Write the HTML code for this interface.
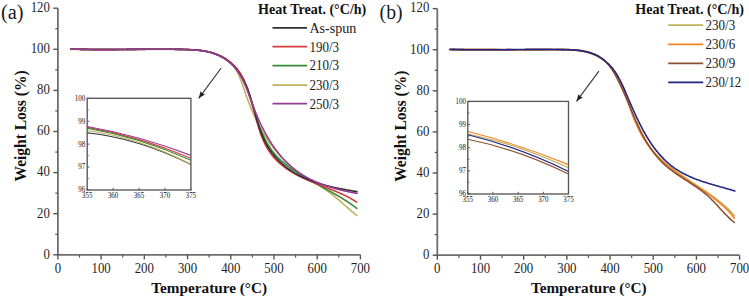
<!DOCTYPE html><html><head><meta charset="utf-8"><style>html,body{margin:0;padding:0;background:#fff;width:749px;height:300px;overflow:hidden}svg{display:block}text{font-family:"Liberation Serif", serif}</style></head><body><svg width="749" height="300" viewBox="0 0 749 300" font-family='"Liberation Serif", serif'>
<rect width="749" height="300" fill="#fff"/>
<line x1="57.90" y1="8.20" x2="57.90" y2="255.30" stroke="#6e6e6e" stroke-width="1.80"/>
<line x1="57.40" y1="254.80" x2="360.40" y2="254.80" stroke="#6e6e6e" stroke-width="1.80"/>
<line x1="53.30" y1="254.80" x2="57.90" y2="254.80" stroke="#555" stroke-width="1.40"/>
<text x="49.90" y="258.60" font-size="13.60" text-anchor="end" font-weight="normal" fill="#1e1e1e" textLength="6.4" lengthAdjust="spacingAndGlyphs">0</text>
<line x1="55.30" y1="234.25" x2="57.90" y2="234.25" stroke="#555" stroke-width="1.20"/>
<line x1="53.30" y1="213.70" x2="57.90" y2="213.70" stroke="#555" stroke-width="1.40"/>
<text x="49.90" y="217.50" font-size="13.60" text-anchor="end" font-weight="normal" fill="#1e1e1e" textLength="12.8" lengthAdjust="spacingAndGlyphs">20</text>
<line x1="55.30" y1="193.15" x2="57.90" y2="193.15" stroke="#555" stroke-width="1.20"/>
<line x1="53.30" y1="172.60" x2="57.90" y2="172.60" stroke="#555" stroke-width="1.40"/>
<text x="49.90" y="176.40" font-size="13.60" text-anchor="end" font-weight="normal" fill="#1e1e1e" textLength="12.8" lengthAdjust="spacingAndGlyphs">40</text>
<line x1="55.30" y1="152.05" x2="57.90" y2="152.05" stroke="#555" stroke-width="1.20"/>
<line x1="53.30" y1="131.50" x2="57.90" y2="131.50" stroke="#555" stroke-width="1.40"/>
<text x="49.90" y="135.30" font-size="13.60" text-anchor="end" font-weight="normal" fill="#1e1e1e" textLength="12.8" lengthAdjust="spacingAndGlyphs">60</text>
<line x1="55.30" y1="110.95" x2="57.90" y2="110.95" stroke="#555" stroke-width="1.20"/>
<line x1="53.30" y1="90.40" x2="57.90" y2="90.40" stroke="#555" stroke-width="1.40"/>
<text x="49.90" y="94.20" font-size="13.60" text-anchor="end" font-weight="normal" fill="#1e1e1e" textLength="12.8" lengthAdjust="spacingAndGlyphs">80</text>
<line x1="55.30" y1="69.85" x2="57.90" y2="69.85" stroke="#555" stroke-width="1.20"/>
<line x1="53.30" y1="49.30" x2="57.90" y2="49.30" stroke="#555" stroke-width="1.40"/>
<text x="49.90" y="53.10" font-size="13.60" text-anchor="end" font-weight="normal" fill="#1e1e1e" textLength="19.2" lengthAdjust="spacingAndGlyphs">100</text>
<line x1="55.30" y1="28.75" x2="57.90" y2="28.75" stroke="#555" stroke-width="1.20"/>
<line x1="53.30" y1="8.20" x2="57.90" y2="8.20" stroke="#555" stroke-width="1.40"/>
<text x="49.90" y="12.00" font-size="13.60" text-anchor="end" font-weight="normal" fill="#1e1e1e" textLength="19.2" lengthAdjust="spacingAndGlyphs">120</text>
<line x1="57.90" y1="254.80" x2="57.90" y2="259.40" stroke="#555" stroke-width="1.40"/>
<text x="57.90" y="273.20" font-size="13.60" text-anchor="middle" font-weight="normal" fill="#1e1e1e" textLength="6.4" lengthAdjust="spacingAndGlyphs">0</text>
<line x1="79.51" y1="254.80" x2="79.51" y2="257.60" stroke="#555" stroke-width="1.20"/>
<line x1="101.11" y1="254.80" x2="101.11" y2="259.40" stroke="#555" stroke-width="1.40"/>
<text x="101.11" y="273.20" font-size="13.60" text-anchor="middle" font-weight="normal" fill="#1e1e1e" textLength="19.2" lengthAdjust="spacingAndGlyphs">100</text>
<line x1="122.72" y1="254.80" x2="122.72" y2="257.60" stroke="#555" stroke-width="1.20"/>
<line x1="144.33" y1="254.80" x2="144.33" y2="259.40" stroke="#555" stroke-width="1.40"/>
<text x="144.33" y="273.20" font-size="13.60" text-anchor="middle" font-weight="normal" fill="#1e1e1e" textLength="19.2" lengthAdjust="spacingAndGlyphs">200</text>
<line x1="165.94" y1="254.80" x2="165.94" y2="257.60" stroke="#555" stroke-width="1.20"/>
<line x1="187.54" y1="254.80" x2="187.54" y2="259.40" stroke="#555" stroke-width="1.40"/>
<text x="187.54" y="273.20" font-size="13.60" text-anchor="middle" font-weight="normal" fill="#1e1e1e" textLength="19.2" lengthAdjust="spacingAndGlyphs">300</text>
<line x1="209.15" y1="254.80" x2="209.15" y2="257.60" stroke="#555" stroke-width="1.20"/>
<line x1="230.76" y1="254.80" x2="230.76" y2="259.40" stroke="#555" stroke-width="1.40"/>
<text x="230.76" y="273.20" font-size="13.60" text-anchor="middle" font-weight="normal" fill="#1e1e1e" textLength="19.2" lengthAdjust="spacingAndGlyphs">400</text>
<line x1="252.36" y1="254.80" x2="252.36" y2="257.60" stroke="#555" stroke-width="1.20"/>
<line x1="273.97" y1="254.80" x2="273.97" y2="259.40" stroke="#555" stroke-width="1.40"/>
<text x="273.97" y="273.20" font-size="13.60" text-anchor="middle" font-weight="normal" fill="#1e1e1e" textLength="19.2" lengthAdjust="spacingAndGlyphs">500</text>
<line x1="295.58" y1="254.80" x2="295.58" y2="257.60" stroke="#555" stroke-width="1.20"/>
<line x1="317.19" y1="254.80" x2="317.19" y2="259.40" stroke="#555" stroke-width="1.40"/>
<text x="317.19" y="273.20" font-size="13.60" text-anchor="middle" font-weight="normal" fill="#1e1e1e" textLength="19.2" lengthAdjust="spacingAndGlyphs">600</text>
<line x1="338.79" y1="254.80" x2="338.79" y2="257.60" stroke="#555" stroke-width="1.20"/>
<line x1="360.40" y1="254.80" x2="360.40" y2="259.40" stroke="#555" stroke-width="1.40"/>
<text x="360.40" y="273.20" font-size="13.60" text-anchor="middle" font-weight="normal" fill="#1e1e1e" textLength="19.2" lengthAdjust="spacingAndGlyphs">700</text>
<text x="209.15" y="292.70" font-size="15.50" text-anchor="middle" font-weight="bold" fill="#111" textLength="115.7" lengthAdjust="spacingAndGlyphs">Temperature (°C)</text>
<text transform="translate(26.40,125.95) rotate(-90)" x="0" y="0" font-size="15.8" font-weight="bold" fill="#111" text-anchor="middle" textLength="111.1" lengthAdjust="spacingAndGlyphs">Weight Loss (%)</text>
<text x="1.00" y="18.60" font-size="20.00" text-anchor="start" font-weight="normal" fill="#1a1a1a" textLength="22.6" lengthAdjust="spacingAndGlyphs">(a)</text>
<text x="258.00" y="13.80" font-size="14.30" text-anchor="start" font-weight="bold" fill="#111" textLength="108.3" lengthAdjust="spacingAndGlyphs">Heat Treat. (°C/h)</text>
<line x1="272.50" y1="27.80" x2="307.00" y2="27.80" stroke="#303030" stroke-width="1.75"/>
<text x="309.40" y="32.60" font-size="14.00" text-anchor="start" font-weight="normal" fill="#1a1a1a" textLength="47.0" lengthAdjust="spacingAndGlyphs">As-spun</text>
<line x1="272.50" y1="46.70" x2="307.00" y2="46.70" stroke="#d83a3e" stroke-width="1.75"/>
<text x="309.40" y="51.50" font-size="14.00" text-anchor="start" font-weight="normal" fill="#1a1a1a" textLength="29.6" lengthAdjust="spacingAndGlyphs">190/3</text>
<line x1="272.50" y1="65.60" x2="307.00" y2="65.60" stroke="#328a32" stroke-width="1.75"/>
<text x="309.40" y="70.40" font-size="14.00" text-anchor="start" font-weight="normal" fill="#1a1a1a" textLength="29.6" lengthAdjust="spacingAndGlyphs">210/3</text>
<line x1="272.50" y1="85.00" x2="307.00" y2="85.00" stroke="#bdb35a" stroke-width="1.75"/>
<text x="309.40" y="89.80" font-size="14.00" text-anchor="start" font-weight="normal" fill="#1a1a1a" textLength="29.6" lengthAdjust="spacingAndGlyphs">230/3</text>
<line x1="272.50" y1="103.70" x2="307.00" y2="103.70" stroke="#963c96" stroke-width="1.75"/>
<text x="309.40" y="108.50" font-size="14.00" text-anchor="start" font-weight="normal" fill="#1a1a1a" textLength="29.6" lengthAdjust="spacingAndGlyphs">250/3</text>
<path d="M70.9,49.5 L71.7,49.5 L72.4,49.5 L73.1,49.4 L73.9,49.4 L74.6,49.4 L75.4,49.4 L76.1,49.4 L76.9,49.4 L77.6,49.4 L78.3,49.4 L79.1,49.4 L79.8,49.4 L80.6,49.4 L81.3,49.4 L82.0,49.4 L82.8,49.4 L83.5,49.4 L84.3,49.4 L85.0,49.4 L85.7,49.4 L86.5,49.4 L87.2,49.4 L88.0,49.4 L88.7,49.4 L89.4,49.4 L90.2,49.4 L90.9,49.4 L91.7,49.4 L92.4,49.4 L93.1,49.4 L93.9,49.4 L94.6,49.4 L95.3,49.4 L96.1,49.4 L96.8,49.4 L97.5,49.4 L98.3,49.4 L99.0,49.4 L99.8,49.4 L100.5,49.4 L101.2,49.4 L102.0,49.4 L102.7,49.4 L103.4,49.4 L104.2,49.4 L104.9,49.4 L105.6,49.4 L106.4,49.4 L107.1,49.4 L107.8,49.4 L108.6,49.4 L109.3,49.4 L110.0,49.4 L110.8,49.4 L111.5,49.4 L112.3,49.4 L113.0,49.4 L113.7,49.4 L114.5,49.4 L115.2,49.4 L115.9,49.4 L116.7,49.4 L117.4,49.4 L118.1,49.4 L118.9,49.4 L119.6,49.4 L120.3,49.4 L121.1,49.4 L121.8,49.4 L122.5,49.4 L123.3,49.4 L124.0,49.4 L124.7,49.4 L125.5,49.4 L126.2,49.4 L126.9,49.4 L127.7,49.4 L128.4,49.4 L129.1,49.4 L129.9,49.4 L130.6,49.4 L131.3,49.4 L132.1,49.4 L132.8,49.4 L133.5,49.4 L134.3,49.4 L135.0,49.4 L135.7,49.4 L136.5,49.4 L137.2,49.5 L137.9,49.5 L138.7,49.5 L139.4,49.5 L140.1,49.5 L140.9,49.5 L141.6,49.5 L142.3,49.5 L143.1,49.5 L143.8,49.5 L144.5,49.5 L145.3,49.5 L146.0,49.5 L146.7,49.5 L147.5,49.5 L148.2,49.5 L148.9,49.5 L149.7,49.5 L150.4,49.5 L151.1,49.5 L151.9,49.5 L152.6,49.5 L153.3,49.5 L154.1,49.5 L154.8,49.5 L155.6,49.5 L156.3,49.5 L157.0,49.5 L157.8,49.5 L158.5,49.5 L159.2,49.5 L160.0,49.5 L160.7,49.5 L161.4,49.5 L162.2,49.5 L162.9,49.5 L163.7,49.5 L164.4,49.5 L165.1,49.5 L165.9,49.5 L166.6,49.5 L167.4,49.5 L168.1,49.5 L168.8,49.5 L169.6,49.5 L170.3,49.5 L171.0,49.5 L171.8,49.5 L172.5,49.5 L173.3,49.5 L174.0,49.5 L174.7,49.5 L175.5,49.5 L176.2,49.5 L177.0,49.5 L177.7,49.5 L178.5,49.5 L179.2,49.5 L179.9,49.5 L180.7,49.5 L181.4,49.5 L182.2,49.5 L182.9,49.5 L183.7,49.5 L184.4,49.5 L185.1,49.5 L185.9,49.5 L186.6,49.5 L187.4,49.6 L188.1,49.6 L188.9,49.6 L189.6,49.6 L190.3,49.6 L191.1,49.6 L191.8,49.7 L192.6,49.7 L193.3,49.7 L194.0,49.8 L194.8,49.8 L195.5,49.9 L196.3,49.9 L197.0,50.0 L197.7,50.0 L198.5,50.1 L199.2,50.2 L199.9,50.2 L200.7,50.3 L201.4,50.4 L202.1,50.5 L202.9,50.6 L203.6,50.7 L204.3,50.8 L205.0,50.9 L205.8,51.1 L206.5,51.2 L207.2,51.4 L207.9,51.5 L208.7,51.7 L209.4,51.8 L210.1,52.0 L210.8,52.2 L211.5,52.4 L212.2,52.6 L212.9,52.8 L213.6,53.0 L214.3,53.3 L215.0,53.5 L215.7,53.7 L216.4,54.0 L217.1,54.3 L217.7,54.5 L218.4,54.8 L219.1,55.1 L219.7,55.4 L220.4,55.7 L221.0,56.0 L221.7,56.3 L222.3,56.7 L222.9,57.0 L223.5,57.4 L224.2,57.8 L224.8,58.1 L225.3,58.5 L225.9,58.9 L226.5,59.3 L227.1,59.7 L227.6,60.2 L228.2,60.6 L228.7,61.0 L229.2,61.5 L229.8,62.0 L230.3,62.4 L230.8,62.9 L231.2,63.4 L231.7,63.9 L232.2,64.5 L232.6,65.0 L233.1,65.5 L233.5,66.1 L233.9,66.6 L234.3,67.2 L234.7,67.8 L235.1,68.4 L235.5,69.0 L235.9,69.6 L236.2,70.2 L236.6,70.8 L236.9,71.4 L237.3,72.1 L237.6,72.7 L237.9,73.4 L238.2,74.0 L238.6,74.7 L238.9,75.3 L239.2,76.0 L239.5,76.7 L239.7,77.4 L240.0,78.1 L240.3,78.8 L240.6,79.4 L240.9,80.1 L241.1,80.8 L241.4,81.6 L241.7,82.3 L241.9,83.0 L242.2,83.7 L242.4,84.4 L242.7,85.1 L242.9,85.8 L243.2,86.6 L243.4,87.3 L243.7,88.0 L243.9,88.7 L244.2,89.5 L244.4,90.2 L244.7,90.9 L244.9,91.7 L245.1,92.4 L245.4,93.1 L245.6,93.8 L245.9,94.6 L246.1,95.3 L246.4,96.0 L246.6,96.7 L246.9,97.4 L247.2,98.1 L247.4,98.9 L247.7,99.6 L248.0,100.3 L248.2,101.0 L248.5,101.7 L248.8,102.4 L249.0,103.1 L249.3,103.8 L249.6,104.5 L249.9,105.2 L250.1,105.9 L250.4,106.6 L250.7,107.3 L251.0,108.0 L251.3,108.7 L251.6,109.4 L251.8,110.1 L252.1,110.8 L252.4,111.5 L252.7,112.1 L253.0,112.8 L253.3,113.5 L253.6,114.2 L253.9,114.9 L254.2,115.5 L254.5,116.2 L254.9,116.9 L255.2,117.6 L255.5,118.2 L255.8,118.9 L256.1,119.6 L256.4,120.2 L256.8,120.9 L257.1,121.5 L257.4,122.2 L257.8,122.9 L258.1,123.5 L258.4,124.2 L258.8,124.8 L259.1,125.5 L259.4,126.1 L259.8,126.7 L260.1,127.4 L260.5,128.0 L260.8,128.7 L261.2,129.3 L261.5,129.9 L261.9,130.6 L262.3,131.2 L262.6,131.8 L263.0,132.5 L263.4,133.1 L263.7,133.7 L264.1,134.3 L264.5,134.9 L264.9,135.6 L265.2,136.2 L265.6,136.8 L266.0,137.4 L266.4,138.0 L266.8,138.6 L267.2,139.2 L267.6,139.8 L268.0,140.4 L268.4,141.0 L268.8,141.6 L269.2,142.2 L269.6,142.8 L270.0,143.4 L270.4,143.9 L270.9,144.5 L271.3,145.1 L271.7,145.7 L272.1,146.3 L272.6,146.8 L273.0,147.4 L273.4,148.0 L273.9,148.5 L274.3,149.1 L274.7,149.7 L275.2,150.2 L275.6,150.8 L276.1,151.3 L276.5,151.9 L277.0,152.4 L277.5,153.0 L277.9,153.5 L278.4,154.1 L278.9,154.6 L279.3,155.1 L279.8,155.7 L280.3,156.2 L280.8,156.7 L281.3,157.3 L281.7,157.8 L282.2,158.3 L282.7,158.8 L283.2,159.3 L283.7,159.9 L284.2,160.4 L284.7,160.9 L285.2,161.4 L285.8,161.9 L286.3,162.4 L286.8,162.9 L287.3,163.4 L287.8,163.9 L288.4,164.4 L288.9,164.9 L289.4,165.3 L290.0,165.8 L290.5,166.3 L291.1,166.8 L291.6,167.2 L292.2,167.7 L292.7,168.2 L293.3,168.7 L293.8,169.1 L294.4,169.6 L295.0,170.0 L295.5,170.5 L296.1,170.9 L296.7,171.4 L297.3,171.8 L297.9,172.3 L298.4,172.7 L299.0,173.1 L299.6,173.6 L300.2,174.0 L300.8,174.4 L301.4,174.9 L302.1,175.3 L302.7,175.7 L303.3,176.1 L303.9,176.5 L304.5,176.9 L305.2,177.3 L305.8,177.7 L306.4,178.1 L307.1,178.5 L307.7,178.9 L308.3,179.3 L309.0,179.7 L309.6,180.1 L310.3,180.5 L310.9,180.9 L311.6,181.3 L312.3,181.6 L312.9,182.0 L313.6,182.4 L314.2,182.8 L314.9,183.2 L315.5,183.5 L316.2,183.9 L316.9,184.3 L317.5,184.7 L318.2,185.1 L318.8,185.5 L319.5,185.8 L320.1,186.2 L320.8,186.6 L321.4,187.0 L322.0,187.4 L322.7,187.8 L323.3,188.2 L323.9,188.6 L324.6,189.0 L325.2,189.4 L325.8,189.9 L326.4,190.3 L327.0,190.7 L327.6,191.1 L328.2,191.5 L328.8,192.0 L329.4,192.4 L330.0,192.9 L330.6,193.3 L331.2,193.7 L331.8,194.2 L332.3,194.6 L332.9,195.1 L333.5,195.6 L334.1,196.0 L334.6,196.5 L335.2,196.9 L335.7,197.4 L336.3,197.9 L336.9,198.3 L337.4,198.8 L338.0,199.3 L338.5,199.7 L339.1,200.2 L339.6,200.7 L340.2,201.2 L340.7,201.7 L341.3,202.1 L341.8,202.6 L342.4,203.1 L342.9,203.6 L343.4,204.1 L344.0,204.5 L344.5,205.0 L345.1,205.5 L345.6,206.0 L346.2,206.5 L346.7,207.0 L347.3,207.4 L347.8,207.9 L348.4,208.4 L348.9,208.9 L349.5,209.4 L350.0,209.8 L350.6,210.3 L351.1,210.8 L351.7,211.3 L352.3,211.8 L352.8,212.2 L353.4,212.7 L354.0,213.2 L354.5,213.7 L355.1,214.1 L355.7,214.6 L356.3,215.1 L356.9,215.5" fill="none" stroke="#bdb35a" stroke-width="1.6" stroke-linejoin="round" stroke-linecap="round"/>
<path d="M70.9,49.1 L71.6,49.1 L72.4,49.1 L73.1,49.2 L73.9,49.2 L74.6,49.2 L75.3,49.2 L76.1,49.3 L76.8,49.3 L77.6,49.3 L78.3,49.3 L79.0,49.3 L79.8,49.3 L80.5,49.4 L81.2,49.4 L82.0,49.4 L82.7,49.4 L83.5,49.4 L84.2,49.4 L84.9,49.4 L85.7,49.5 L86.4,49.5 L87.1,49.5 L87.9,49.5 L88.6,49.5 L89.3,49.5 L90.1,49.5 L90.8,49.5 L91.5,49.5 L92.3,49.5 L93.0,49.5 L93.7,49.5 L94.5,49.6 L95.2,49.6 L95.9,49.6 L96.7,49.6 L97.4,49.6 L98.1,49.6 L98.8,49.6 L99.6,49.6 L100.3,49.6 L101.0,49.6 L101.8,49.6 L102.5,49.6 L103.2,49.6 L104.0,49.6 L104.7,49.6 L105.4,49.6 L106.1,49.6 L106.9,49.6 L107.6,49.6 L108.3,49.6 L109.1,49.6 L109.8,49.6 L110.5,49.6 L111.2,49.6 L112.0,49.6 L112.7,49.6 L113.4,49.6 L114.1,49.5 L114.9,49.5 L115.6,49.5 L116.3,49.5 L117.1,49.5 L117.8,49.5 L118.5,49.5 L119.2,49.5 L120.0,49.5 L120.7,49.5 L121.4,49.5 L122.1,49.5 L122.9,49.5 L123.6,49.5 L124.3,49.5 L125.1,49.5 L125.8,49.5 L126.5,49.4 L127.2,49.4 L128.0,49.4 L128.7,49.4 L129.4,49.4 L130.1,49.4 L130.9,49.4 L131.6,49.4 L132.3,49.4 L133.1,49.4 L133.8,49.4 L134.5,49.4 L135.2,49.4 L136.0,49.4 L136.7,49.4 L137.4,49.3 L138.1,49.3 L138.9,49.3 L139.6,49.3 L140.3,49.3 L141.1,49.3 L141.8,49.3 L142.5,49.3 L143.2,49.3 L144.0,49.3 L144.7,49.3 L145.4,49.3 L146.2,49.3 L146.9,49.3 L147.6,49.3 L148.3,49.3 L149.1,49.3 L149.8,49.3 L150.5,49.3 L151.3,49.3 L152.0,49.3 L152.7,49.2 L153.5,49.2 L154.2,49.2 L154.9,49.2 L155.7,49.2 L156.4,49.2 L157.1,49.2 L157.9,49.2 L158.6,49.2 L159.3,49.2 L160.1,49.2 L160.8,49.2 L161.5,49.2 L162.3,49.2 L163.0,49.2 L163.7,49.2 L164.5,49.3 L165.2,49.3 L165.9,49.3 L166.7,49.3 L167.4,49.3 L168.1,49.3 L168.9,49.3 L169.6,49.3 L170.4,49.3 L171.1,49.3 L171.8,49.3 L172.6,49.3 L173.3,49.3 L174.0,49.3 L174.8,49.3 L175.5,49.4 L176.3,49.4 L177.0,49.4 L177.8,49.4 L178.5,49.4 L179.2,49.4 L180.0,49.4 L180.7,49.4 L181.5,49.5 L182.2,49.5 L183.0,49.5 L183.7,49.5 L184.4,49.5 L185.2,49.5 L185.9,49.6 L186.7,49.6 L187.4,49.6 L188.2,49.6 L188.9,49.7 L189.7,49.7 L190.4,49.7 L191.1,49.8 L191.9,49.8 L192.6,49.8 L193.4,49.9 L194.1,49.9 L194.9,50.0 L195.6,50.0 L196.3,50.1 L197.1,50.2 L197.8,50.2 L198.5,50.3 L199.3,50.4 L200.0,50.5 L200.7,50.5 L201.4,50.6 L202.2,50.7 L202.9,50.8 L203.6,51.0 L204.3,51.1 L205.0,51.2 L205.7,51.3 L206.4,51.5 L207.1,51.6 L207.8,51.8 L208.5,51.9 L209.2,52.1 L209.9,52.3 L210.6,52.4 L211.3,52.6 L212.0,52.8 L212.6,53.0 L213.3,53.3 L214.0,53.5 L214.6,53.7 L215.3,54.0 L216.0,54.2 L216.6,54.5 L217.3,54.7 L217.9,55.0 L218.5,55.3 L219.2,55.6 L219.8,55.9 L220.4,56.2 L221.0,56.5 L221.7,56.8 L222.3,57.2 L222.9,57.5 L223.5,57.9 L224.1,58.2 L224.6,58.6 L225.2,58.9 L225.8,59.3 L226.4,59.7 L226.9,60.1 L227.5,60.5 L228.0,60.9 L228.6,61.3 L229.1,61.8 L229.7,62.2 L230.2,62.7 L230.7,63.1 L231.2,63.6 L231.7,64.0 L232.2,64.5 L232.7,65.0 L233.2,65.5 L233.7,66.0 L234.2,66.5 L234.7,67.0 L235.1,67.5 L235.6,68.0 L236.0,68.6 L236.5,69.1 L236.9,69.7 L237.3,70.2 L237.7,70.8 L238.1,71.4 L238.5,71.9 L238.9,72.5 L239.3,73.1 L239.7,73.7 L240.1,74.3 L240.5,74.9 L240.8,75.6 L241.2,76.2 L241.5,76.8 L241.9,77.4 L242.2,78.1 L242.6,78.7 L242.9,79.4 L243.2,80.0 L243.5,80.7 L243.8,81.4 L244.1,82.0 L244.5,82.7 L244.8,83.4 L245.0,84.1 L245.3,84.8 L245.6,85.4 L245.9,86.1 L246.2,86.8 L246.5,87.5 L246.7,88.2 L247.0,88.9 L247.3,89.7 L247.5,90.4 L247.8,91.1 L248.0,91.8 L248.3,92.5 L248.6,93.2 L248.8,94.0 L249.0,94.7 L249.3,95.4 L249.5,96.1 L249.8,96.9 L250.0,97.6 L250.2,98.3 L250.5,99.1 L250.7,99.8 L250.9,100.5 L251.2,101.3 L251.4,102.0 L251.6,102.7 L251.9,103.5 L252.1,104.2 L252.3,104.9 L252.5,105.7 L252.8,106.4 L253.0,107.1 L253.2,107.8 L253.4,108.6 L253.7,109.3 L253.9,110.0 L254.1,110.8 L254.3,111.5 L254.6,112.2 L254.8,112.9 L255.0,113.6 L255.3,114.4 L255.5,115.1 L255.7,115.8 L256.0,116.5 L256.2,117.2 L256.4,117.9 L256.7,118.7 L256.9,119.4 L257.1,120.1 L257.4,120.8 L257.6,121.5 L257.9,122.2 L258.1,122.9 L258.4,123.6 L258.6,124.3 L258.9,125.0 L259.1,125.7 L259.4,126.3 L259.6,127.0 L259.9,127.7 L260.2,128.4 L260.4,129.1 L260.7,129.8 L261.0,130.4 L261.3,131.1 L261.5,131.8 L261.8,132.4 L262.1,133.1 L262.4,133.8 L262.7,134.4 L263.0,135.1 L263.3,135.7 L263.6,136.4 L263.9,137.0 L264.2,137.7 L264.5,138.3 L264.8,138.9 L265.2,139.6 L265.5,140.2 L265.8,140.8 L266.2,141.5 L266.5,142.1 L266.8,142.7 L267.2,143.3 L267.6,143.9 L267.9,144.5 L268.3,145.1 L268.6,145.7 L269.0,146.3 L269.4,146.9 L269.8,147.5 L270.2,148.1 L270.6,148.6 L271.0,149.2 L271.4,149.8 L271.8,150.4 L272.2,150.9 L272.6,151.5 L273.1,152.0 L273.5,152.6 L274.0,153.1 L274.4,153.7 L274.9,154.2 L275.3,154.7 L275.8,155.3 L276.3,155.8 L276.7,156.3 L277.2,156.8 L277.7,157.3 L278.2,157.8 L278.7,158.3 L279.2,158.8 L279.8,159.3 L280.3,159.8 L280.8,160.3 L281.3,160.8 L281.9,161.3 L282.4,161.7 L282.9,162.2 L283.5,162.7 L284.0,163.1 L284.6,163.6 L285.2,164.0 L285.7,164.5 L286.3,164.9 L286.9,165.4 L287.5,165.8 L288.0,166.3 L288.6,166.7 L289.2,167.1 L289.8,167.6 L290.4,168.0 L291.0,168.4 L291.6,168.9 L292.2,169.3 L292.8,169.7 L293.4,170.1 L294.0,170.5 L294.6,170.9 L295.3,171.3 L295.9,171.7 L296.5,172.1 L297.1,172.5 L297.8,172.9 L298.4,173.3 L299.0,173.7 L299.6,174.1 L300.3,174.5 L300.9,174.9 L301.5,175.3 L302.2,175.7 L302.8,176.0 L303.5,176.4 L304.1,176.8 L304.7,177.2 L305.4,177.6 L306.0,177.9 L306.7,178.3 L307.3,178.7 L308.0,179.0 L308.6,179.4 L309.2,179.8 L309.9,180.1 L310.5,180.5 L311.2,180.9 L311.8,181.2 L312.5,181.6 L313.1,182.0 L313.8,182.3 L314.4,182.7 L315.1,183.0 L315.7,183.4 L316.4,183.7 L317.0,184.1 L317.7,184.5 L318.3,184.8 L319.0,185.2 L319.6,185.5 L320.3,185.9 L320.9,186.2 L321.5,186.6 L322.2,186.9 L322.8,187.3 L323.5,187.7 L324.1,188.0 L324.8,188.4 L325.4,188.7 L326.1,189.1 L326.7,189.4 L327.4,189.8 L328.0,190.1 L328.6,190.5 L329.3,190.9 L329.9,191.2 L330.6,191.6 L331.2,191.9 L331.8,192.3 L332.5,192.7 L333.1,193.0 L333.7,193.4 L334.4,193.7 L335.0,194.1 L335.6,194.5 L336.3,194.8 L336.9,195.2 L337.5,195.6 L338.2,195.9 L338.8,196.3 L339.4,196.7 L340.0,197.1 L340.6,197.4 L341.3,197.8 L341.9,198.2 L342.5,198.6 L343.1,198.9 L343.7,199.3 L344.3,199.7 L345.0,200.1 L345.6,200.5 L346.2,200.9 L346.8,201.3 L347.4,201.7 L348.0,202.1 L348.6,202.5 L349.2,202.9 L349.8,203.3 L350.4,203.7 L351.0,204.1 L351.6,204.5 L352.1,204.9 L352.7,205.3 L353.3,205.8 L353.9,206.2 L354.5,206.6 L355.0,207.0 L355.6,207.5 L356.2,207.9 L356.8,208.3" fill="none" stroke="#328a32" stroke-width="1.6" stroke-linejoin="round" stroke-linecap="round"/>
<path d="M70.9,49.1 L71.6,49.1 L72.4,49.1 L73.1,49.1 L73.9,49.2 L74.6,49.2 L75.3,49.2 L76.1,49.2 L76.8,49.3 L77.5,49.3 L78.3,49.3 L79.0,49.3 L79.8,49.3 L80.5,49.4 L81.2,49.4 L82.0,49.4 L82.7,49.4 L83.4,49.4 L84.2,49.4 L84.9,49.5 L85.6,49.5 L86.4,49.5 L87.1,49.5 L87.9,49.5 L88.6,49.5 L89.3,49.5 L90.0,49.5 L90.8,49.5 L91.5,49.6 L92.2,49.6 L93.0,49.6 L93.7,49.6 L94.4,49.6 L95.2,49.6 L95.9,49.6 L96.6,49.6 L97.4,49.6 L98.1,49.6 L98.8,49.6 L99.6,49.6 L100.3,49.6 L101.0,49.6 L101.7,49.6 L102.5,49.6 L103.2,49.6 L103.9,49.6 L104.7,49.6 L105.4,49.6 L106.1,49.6 L106.8,49.6 L107.6,49.6 L108.3,49.6 L109.0,49.6 L109.7,49.6 L110.5,49.6 L111.2,49.6 L111.9,49.6 L112.7,49.6 L113.4,49.6 L114.1,49.6 L114.8,49.6 L115.6,49.6 L116.3,49.6 L117.0,49.5 L117.7,49.5 L118.5,49.5 L119.2,49.5 L119.9,49.5 L120.6,49.5 L121.4,49.5 L122.1,49.5 L122.8,49.5 L123.5,49.5 L124.3,49.5 L125.0,49.5 L125.7,49.5 L126.4,49.5 L127.2,49.4 L127.9,49.4 L128.6,49.4 L129.4,49.4 L130.1,49.4 L130.8,49.4 L131.5,49.4 L132.3,49.4 L133.0,49.4 L133.7,49.4 L134.4,49.4 L135.2,49.4 L135.9,49.4 L136.6,49.3 L137.3,49.3 L138.1,49.3 L138.8,49.3 L139.5,49.3 L140.2,49.3 L141.0,49.3 L141.7,49.3 L142.4,49.3 L143.2,49.3 L143.9,49.3 L144.6,49.3 L145.3,49.3 L146.1,49.3 L146.8,49.3 L147.5,49.2 L148.3,49.2 L149.0,49.2 L149.7,49.2 L150.4,49.2 L151.2,49.2 L151.9,49.2 L152.6,49.2 L153.4,49.2 L154.1,49.2 L154.8,49.2 L155.6,49.2 L156.3,49.2 L157.0,49.2 L157.7,49.2 L158.5,49.2 L159.2,49.2 L159.9,49.2 L160.7,49.2 L161.4,49.2 L162.1,49.2 L162.9,49.2 L163.6,49.2 L164.3,49.2 L165.1,49.2 L165.8,49.2 L166.6,49.2 L167.3,49.2 L168.0,49.2 L168.8,49.2 L169.5,49.2 L170.2,49.3 L171.0,49.3 L171.7,49.3 L172.4,49.3 L173.2,49.3 L173.9,49.3 L174.7,49.3 L175.4,49.3 L176.1,49.3 L176.9,49.3 L177.6,49.4 L178.4,49.4 L179.1,49.4 L179.8,49.4 L180.6,49.4 L181.3,49.4 L182.1,49.5 L182.8,49.5 L183.6,49.5 L184.3,49.5 L185.1,49.5 L185.8,49.6 L186.5,49.6 L187.3,49.6 L188.0,49.6 L188.8,49.7 L189.5,49.7 L190.3,49.7 L191.0,49.8 L191.8,49.8 L192.5,49.9 L193.2,49.9 L194.0,50.0 L194.7,50.0 L195.5,50.1 L196.2,50.1 L196.9,50.2 L197.7,50.3 L198.4,50.3 L199.1,50.4 L199.9,50.5 L200.6,50.6 L201.3,50.7 L202.1,50.8 L202.8,50.9 L203.5,51.0 L204.2,51.1 L204.9,51.2 L205.6,51.3 L206.4,51.5 L207.1,51.6 L207.8,51.8 L208.5,51.9 L209.2,52.1 L209.9,52.2 L210.6,52.4 L211.2,52.6 L211.9,52.8 L212.6,53.0 L213.3,53.2 L214.0,53.4 L214.6,53.6 L215.3,53.9 L216.0,54.1 L216.6,54.4 L217.3,54.6 L217.9,54.9 L218.6,55.2 L219.2,55.4 L219.9,55.7 L220.5,56.0 L221.1,56.3 L221.7,56.6 L222.4,57.0 L223.0,57.3 L223.6,57.6 L224.2,58.0 L224.8,58.3 L225.4,58.7 L225.9,59.0 L226.5,59.4 L227.1,59.8 L227.7,60.2 L228.2,60.6 L228.8,61.0 L229.3,61.4 L229.9,61.8 L230.4,62.2 L231.0,62.7 L231.5,63.1 L232.0,63.6 L232.5,64.0 L233.0,64.5 L233.5,65.0 L234.0,65.4 L234.5,65.9 L235.0,66.4 L235.4,66.9 L235.9,67.4 L236.4,68.0 L236.8,68.5 L237.2,69.0 L237.7,69.6 L238.1,70.1 L238.5,70.7 L238.9,71.2 L239.3,71.8 L239.7,72.4 L240.1,73.0 L240.5,73.5 L240.9,74.1 L241.2,74.7 L241.6,75.4 L242.0,76.0 L242.3,76.6 L242.6,77.2 L243.0,77.9 L243.3,78.5 L243.6,79.1 L243.9,79.8 L244.3,80.4 L244.6,81.1 L244.9,81.8 L245.2,82.4 L245.5,83.1 L245.7,83.8 L246.0,84.5 L246.3,85.2 L246.6,85.8 L246.8,86.5 L247.1,87.2 L247.4,87.9 L247.6,88.6 L247.9,89.4 L248.1,90.1 L248.3,90.8 L248.6,91.5 L248.8,92.2 L249.1,92.9 L249.3,93.7 L249.5,94.4 L249.7,95.1 L250.0,95.8 L250.2,96.6 L250.4,97.3 L250.6,98.1 L250.8,98.8 L251.0,99.5 L251.2,100.3 L251.4,101.0 L251.6,101.8 L251.8,102.5 L252.0,103.2 L252.2,104.0 L252.4,104.7 L252.6,105.5 L252.8,106.2 L253.0,107.0 L253.2,107.7 L253.4,108.4 L253.6,109.2 L253.8,109.9 L254.0,110.7 L254.2,111.4 L254.4,112.1 L254.6,112.9 L254.8,113.6 L254.9,114.4 L255.1,115.1 L255.3,115.8 L255.5,116.6 L255.7,117.3 L255.9,118.0 L256.1,118.8 L256.3,119.5 L256.5,120.2 L256.7,121.0 L256.9,121.7 L257.1,122.4 L257.3,123.1 L257.5,123.8 L257.7,124.6 L257.9,125.3 L258.2,126.0 L258.4,126.7 L258.6,127.4 L258.8,128.1 L259.0,128.8 L259.3,129.5 L259.5,130.2 L259.7,130.9 L260.0,131.6 L260.2,132.3 L260.4,133.0 L260.7,133.7 L260.9,134.4 L261.2,135.1 L261.4,135.8 L261.7,136.4 L262.0,137.1 L262.2,137.8 L262.5,138.4 L262.8,139.1 L263.0,139.8 L263.3,140.4 L263.6,141.1 L263.9,141.7 L264.2,142.4 L264.5,143.0 L264.8,143.6 L265.1,144.3 L265.4,144.9 L265.8,145.5 L266.1,146.2 L266.4,146.8 L266.8,147.4 L267.1,148.0 L267.5,148.6 L267.8,149.2 L268.2,149.8 L268.6,150.4 L269.0,151.0 L269.3,151.6 L269.7,152.1 L270.1,152.7 L270.5,153.3 L270.9,153.8 L271.4,154.4 L271.8,154.9 L272.2,155.5 L272.7,156.0 L273.1,156.6 L273.6,157.1 L274.0,157.6 L274.5,158.1 L275.0,158.7 L275.4,159.2 L275.9,159.7 L276.4,160.2 L276.9,160.7 L277.4,161.2 L277.9,161.7 L278.4,162.1 L279.0,162.6 L279.5,163.1 L280.0,163.6 L280.6,164.0 L281.1,164.5 L281.6,164.9 L282.2,165.4 L282.8,165.8 L283.3,166.3 L283.9,166.7 L284.4,167.2 L285.0,167.6 L285.6,168.0 L286.2,168.4 L286.8,168.8 L287.4,169.3 L288.0,169.7 L288.6,170.1 L289.2,170.5 L289.8,170.9 L290.4,171.2 L291.0,171.6 L291.6,172.0 L292.3,172.4 L292.9,172.8 L293.5,173.1 L294.2,173.5 L294.8,173.9 L295.4,174.2 L296.1,174.6 L296.7,174.9 L297.4,175.3 L298.0,175.6 L298.7,175.9 L299.3,176.3 L300.0,176.6 L300.7,176.9 L301.3,177.2 L302.0,177.6 L302.7,177.9 L303.3,178.2 L304.0,178.5 L304.7,178.8 L305.4,179.1 L306.0,179.4 L306.7,179.7 L307.4,180.0 L308.1,180.3 L308.8,180.6 L309.5,180.9 L310.1,181.2 L310.8,181.5 L311.5,181.8 L312.2,182.0 L312.9,182.3 L313.6,182.6 L314.3,182.9 L315.0,183.2 L315.7,183.4 L316.4,183.7 L317.1,184.0 L317.8,184.3 L318.5,184.5 L319.2,184.8 L319.9,185.1 L320.6,185.4 L321.3,185.6 L322.0,185.9 L322.7,186.2 L323.3,186.4 L324.0,186.7 L324.7,187.0 L325.4,187.2 L326.1,187.5 L326.8,187.8 L327.5,188.1 L328.2,188.3 L328.9,188.6 L329.6,188.9 L330.3,189.1 L331.0,189.4 L331.7,189.7 L332.3,190.0 L333.0,190.2 L333.7,190.5 L334.4,190.8 L335.1,191.1 L335.8,191.4 L336.4,191.6 L337.1,191.9 L337.8,192.2 L338.4,192.5 L339.1,192.8 L339.8,193.1 L340.4,193.4 L341.1,193.7 L341.8,194.0 L342.4,194.3 L343.1,194.6 L343.7,194.9 L344.4,195.2 L345.0,195.5 L345.7,195.8 L346.3,196.2 L346.9,196.5 L347.6,196.8 L348.2,197.1 L348.8,197.5 L349.5,197.8 L350.1,198.1 L350.7,198.5 L351.3,198.8 L351.9,199.2 L352.5,199.5 L353.1,199.9 L353.7,200.3 L354.3,200.6 L354.9,201.0 L355.5,201.4 L356.1,201.8 L356.6,202.1" fill="none" stroke="#d83a3e" stroke-width="1.6" stroke-linejoin="round" stroke-linecap="round"/>
<path d="M70.9,49.2 L71.6,49.2 L72.4,49.2 L73.1,49.2 L73.8,49.3 L74.5,49.3 L75.3,49.3 L76.0,49.3 L76.7,49.3 L77.5,49.3 L78.2,49.3 L78.9,49.3 L79.6,49.4 L80.4,49.4 L81.1,49.4 L81.8,49.4 L82.6,49.4 L83.3,49.4 L84.0,49.4 L84.7,49.4 L85.5,49.4 L86.2,49.4 L86.9,49.4 L87.6,49.4 L88.4,49.5 L89.1,49.5 L89.8,49.5 L90.5,49.5 L91.2,49.5 L92.0,49.5 L92.7,49.5 L93.4,49.5 L94.1,49.5 L94.9,49.5 L95.6,49.5 L96.3,49.5 L97.0,49.5 L97.7,49.5 L98.5,49.5 L99.2,49.5 L99.9,49.5 L100.6,49.5 L101.3,49.5 L102.1,49.5 L102.8,49.5 L103.5,49.5 L104.2,49.5 L104.9,49.5 L105.6,49.5 L106.4,49.5 L107.1,49.5 L107.8,49.5 L108.5,49.5 L109.2,49.5 L110.0,49.5 L110.7,49.5 L111.4,49.5 L112.1,49.5 L112.8,49.5 L113.5,49.5 L114.3,49.5 L115.0,49.5 L115.7,49.5 L116.4,49.5 L117.1,49.5 L117.8,49.5 L118.6,49.5 L119.3,49.5 L120.0,49.5 L120.7,49.5 L121.4,49.5 L122.1,49.5 L122.9,49.5 L123.6,49.5 L124.3,49.5 L125.0,49.5 L125.7,49.5 L126.4,49.5 L127.2,49.4 L127.9,49.4 L128.6,49.4 L129.3,49.4 L130.0,49.4 L130.7,49.4 L131.5,49.4 L132.2,49.4 L132.9,49.4 L133.6,49.4 L134.3,49.4 L135.0,49.4 L135.8,49.4 L136.5,49.4 L137.2,49.4 L137.9,49.4 L138.6,49.4 L139.3,49.4 L140.1,49.4 L140.8,49.4 L141.5,49.4 L142.2,49.4 L142.9,49.4 L143.6,49.4 L144.4,49.4 L145.1,49.4 L145.8,49.3 L146.5,49.3 L147.2,49.3 L148.0,49.3 L148.7,49.3 L149.4,49.3 L150.1,49.3 L150.8,49.3 L151.6,49.3 L152.3,49.3 L153.0,49.3 L153.7,49.3 L154.4,49.3 L155.2,49.3 L155.9,49.3 L156.6,49.3 L157.3,49.3 L158.1,49.3 L158.8,49.3 L159.5,49.3 L160.2,49.3 L161.0,49.3 L161.7,49.3 L162.4,49.3 L163.1,49.3 L163.9,49.3 L164.6,49.3 L165.3,49.3 L166.0,49.3 L166.8,49.3 L167.5,49.3 L168.2,49.3 L168.9,49.3 L169.7,49.3 L170.4,49.3 L171.1,49.3 L171.9,49.3 L172.6,49.3 L173.3,49.3 L174.0,49.3 L174.8,49.4 L175.5,49.4 L176.2,49.4 L177.0,49.4 L177.7,49.4 L178.4,49.4 L179.2,49.4 L179.9,49.4 L180.6,49.4 L181.4,49.4 L182.1,49.4 L182.8,49.4 L183.6,49.4 L184.3,49.5 L185.0,49.5 L185.8,49.5 L186.5,49.5 L187.2,49.5 L188.0,49.5 L188.7,49.6 L189.4,49.6 L190.2,49.6 L190.9,49.7 L191.6,49.7 L192.4,49.7 L193.1,49.8 L193.8,49.8 L194.5,49.9 L195.3,49.9 L196.0,50.0 L196.7,50.1 L197.4,50.1 L198.2,50.2 L198.9,50.3 L199.6,50.4 L200.3,50.4 L201.0,50.5 L201.7,50.6 L202.4,50.7 L203.1,50.9 L203.8,51.0 L204.5,51.1 L205.2,51.2 L205.9,51.4 L206.6,51.5 L207.3,51.7 L208.0,51.8 L208.7,52.0 L209.4,52.2 L210.0,52.3 L210.7,52.5 L211.4,52.7 L212.1,52.9 L212.7,53.1 L213.4,53.3 L214.0,53.6 L214.7,53.8 L215.3,54.0 L216.0,54.3 L216.6,54.5 L217.3,54.8 L217.9,55.1 L218.5,55.3 L219.2,55.6 L219.8,55.9 L220.4,56.2 L221.0,56.5 L221.6,56.8 L222.2,57.2 L222.8,57.5 L223.4,57.8 L224.0,58.2 L224.6,58.5 L225.2,58.9 L225.7,59.3 L226.3,59.7 L226.8,60.0 L227.4,60.4 L227.9,60.8 L228.5,61.3 L229.0,61.7 L229.5,62.1 L230.1,62.5 L230.6,63.0 L231.1,63.4 L231.6,63.9 L232.1,64.4 L232.6,64.8 L233.1,65.3 L233.5,65.8 L234.0,66.3 L234.5,66.8 L234.9,67.4 L235.4,67.9 L235.8,68.4 L236.3,68.9 L236.7,69.5 L237.1,70.0 L237.6,70.6 L238.0,71.2 L238.4,71.7 L238.8,72.3 L239.2,72.9 L239.6,73.5 L240.0,74.1 L240.3,74.7 L240.7,75.3 L241.1,75.9 L241.5,76.5 L241.8,77.1 L242.2,77.8 L242.5,78.4 L242.9,79.0 L243.2,79.7 L243.5,80.3 L243.9,81.0 L244.2,81.6 L244.5,82.3 L244.8,82.9 L245.1,83.6 L245.5,84.3 L245.8,84.9 L246.1,85.6 L246.4,86.3 L246.6,87.0 L246.9,87.7 L247.2,88.4 L247.5,89.0 L247.8,89.7 L248.0,90.4 L248.3,91.1 L248.5,91.8 L248.8,92.5 L249.1,93.2 L249.3,93.9 L249.5,94.6 L249.8,95.3 L250.0,96.1 L250.3,96.8 L250.5,97.5 L250.7,98.2 L251.0,98.9 L251.2,99.6 L251.4,100.3 L251.6,101.0 L251.8,101.8 L252.0,102.5 L252.3,103.2 L252.5,103.9 L252.7,104.6 L252.9,105.4 L253.1,106.1 L253.3,106.8 L253.5,107.5 L253.7,108.2 L253.9,109.0 L254.1,109.7 L254.3,110.4 L254.5,111.1 L254.7,111.8 L254.9,112.6 L255.1,113.3 L255.3,114.0 L255.5,114.7 L255.7,115.4 L255.9,116.1 L256.1,116.9 L256.3,117.6 L256.5,118.3 L256.7,119.0 L256.9,119.7 L257.1,120.4 L257.3,121.1 L257.5,121.8 L257.7,122.5 L258.0,123.2 L258.2,123.9 L258.4,124.6 L258.6,125.3 L258.8,126.0 L259.0,126.7 L259.3,127.4 L259.5,128.1 L259.7,128.8 L260.0,129.5 L260.2,130.2 L260.4,130.9 L260.7,131.5 L260.9,132.2 L261.2,132.9 L261.4,133.6 L261.7,134.2 L262.0,134.9 L262.2,135.6 L262.5,136.2 L262.8,136.9 L263.1,137.5 L263.3,138.2 L263.6,138.8 L263.9,139.5 L264.2,140.1 L264.5,140.7 L264.8,141.4 L265.2,142.0 L265.5,142.6 L265.8,143.3 L266.1,143.9 L266.5,144.5 L266.8,145.1 L267.2,145.7 L267.5,146.3 L267.9,146.9 L268.3,147.5 L268.6,148.1 L269.0,148.7 L269.4,149.3 L269.8,149.8 L270.2,150.4 L270.6,151.0 L271.0,151.6 L271.4,152.1 L271.8,152.7 L272.2,153.2 L272.7,153.8 L273.1,154.3 L273.5,154.9 L274.0,155.4 L274.4,155.9 L274.9,156.5 L275.3,157.0 L275.8,157.5 L276.2,158.0 L276.7,158.6 L277.2,159.1 L277.7,159.6 L278.2,160.1 L278.7,160.6 L279.1,161.1 L279.6,161.5 L280.2,162.0 L280.7,162.5 L281.2,163.0 L281.7,163.5 L282.2,163.9 L282.7,164.4 L283.3,164.8 L283.8,165.3 L284.4,165.7 L284.9,166.2 L285.4,166.6 L286.0,167.1 L286.6,167.5 L287.1,167.9 L287.7,168.3 L288.3,168.8 L288.8,169.2 L289.4,169.6 L290.0,170.0 L290.6,170.4 L291.2,170.8 L291.8,171.2 L292.4,171.6 L293.0,171.9 L293.6,172.3 L294.2,172.7 L294.8,173.1 L295.4,173.4 L296.1,173.8 L296.7,174.1 L297.3,174.5 L298.0,174.8 L298.6,175.2 L299.2,175.5 L299.9,175.8 L300.5,176.2 L301.2,176.5 L301.8,176.8 L302.5,177.1 L303.2,177.4 L303.8,177.7 L304.5,178.0 L305.2,178.3 L305.8,178.6 L306.5,178.9 L307.2,179.2 L307.9,179.5 L308.5,179.7 L309.2,180.0 L309.9,180.3 L310.6,180.5 L311.3,180.8 L312.0,181.1 L312.7,181.3 L313.4,181.6 L314.1,181.8 L314.8,182.0 L315.5,182.3 L316.2,182.5 L316.9,182.8 L317.6,183.0 L318.3,183.2 L319.0,183.4 L319.7,183.6 L320.4,183.9 L321.1,184.1 L321.9,184.3 L322.6,184.5 L323.3,184.7 L324.0,184.9 L324.7,185.1 L325.4,185.3 L326.1,185.5 L326.9,185.7 L327.6,185.8 L328.3,186.0 L329.0,186.2 L329.7,186.4 L330.4,186.6 L331.2,186.7 L331.9,186.9 L332.6,187.1 L333.3,187.2 L334.0,187.4 L334.7,187.5 L335.5,187.7 L336.2,187.9 L336.9,188.0 L337.6,188.2 L338.3,188.3 L339.0,188.5 L339.7,188.6 L340.4,188.7 L341.1,188.9 L341.8,189.0 L342.6,189.1 L343.3,189.3 L344.0,189.4 L344.7,189.5 L345.4,189.7 L346.1,189.8 L346.7,189.9 L347.4,190.0 L348.1,190.2 L348.8,190.3 L349.5,190.4 L350.2,190.5 L350.9,190.6 L351.6,190.7 L352.2,190.9 L352.9,191.0 L353.6,191.1 L354.3,191.2 L354.9,191.3 L355.6,191.4 L356.2,191.5 L356.9,191.6" fill="none" stroke="#303030" stroke-width="1.6" stroke-linejoin="round" stroke-linecap="round"/>
<path d="M70.9,49.0 L71.6,49.1 L72.4,49.1 L73.1,49.1 L73.8,49.1 L74.5,49.2 L75.3,49.2 L76.0,49.2 L76.7,49.2 L77.4,49.3 L78.1,49.3 L78.9,49.3 L79.6,49.3 L80.3,49.3 L81.0,49.4 L81.7,49.4 L82.5,49.4 L83.2,49.4 L83.9,49.4 L84.6,49.4 L85.3,49.5 L86.1,49.5 L86.8,49.5 L87.5,49.5 L88.2,49.5 L88.9,49.5 L89.7,49.5 L90.4,49.5 L91.1,49.6 L91.8,49.6 L92.5,49.6 L93.2,49.6 L93.9,49.6 L94.7,49.6 L95.4,49.6 L96.1,49.6 L96.8,49.6 L97.5,49.6 L98.2,49.6 L99.0,49.6 L99.7,49.6 L100.4,49.6 L101.1,49.6 L101.8,49.6 L102.5,49.6 L103.2,49.6 L103.9,49.6 L104.7,49.6 L105.4,49.6 L106.1,49.6 L106.8,49.6 L107.5,49.6 L108.2,49.6 L108.9,49.6 L109.6,49.6 L110.4,49.6 L111.1,49.6 L111.8,49.6 L112.5,49.6 L113.2,49.6 L113.9,49.6 L114.6,49.6 L115.3,49.6 L116.0,49.6 L116.8,49.6 L117.5,49.6 L118.2,49.6 L118.9,49.5 L119.6,49.5 L120.3,49.5 L121.0,49.5 L121.7,49.5 L122.4,49.5 L123.2,49.5 L123.9,49.5 L124.6,49.5 L125.3,49.5 L126.0,49.5 L126.7,49.5 L127.4,49.5 L128.1,49.4 L128.8,49.4 L129.6,49.4 L130.3,49.4 L131.0,49.4 L131.7,49.4 L132.4,49.4 L133.1,49.4 L133.8,49.4 L134.5,49.4 L135.2,49.4 L136.0,49.4 L136.7,49.3 L137.4,49.3 L138.1,49.3 L138.8,49.3 L139.5,49.3 L140.2,49.3 L140.9,49.3 L141.7,49.3 L142.4,49.3 L143.1,49.3 L143.8,49.3 L144.5,49.3 L145.2,49.3 L145.9,49.2 L146.7,49.2 L147.4,49.2 L148.1,49.2 L148.8,49.2 L149.5,49.2 L150.2,49.2 L150.9,49.2 L151.7,49.2 L152.4,49.2 L153.1,49.2 L153.8,49.2 L154.5,49.2 L155.2,49.2 L156.0,49.2 L156.7,49.2 L157.4,49.2 L158.1,49.2 L158.8,49.2 L159.5,49.2 L160.3,49.2 L161.0,49.2 L161.7,49.2 L162.4,49.2 L163.1,49.2 L163.9,49.2 L164.6,49.2 L165.3,49.2 L166.0,49.2 L166.7,49.2 L167.5,49.2 L168.2,49.2 L168.9,49.2 L169.6,49.2 L170.3,49.2 L171.1,49.2 L171.8,49.2 L172.5,49.2 L173.2,49.3 L174.0,49.3 L174.7,49.3 L175.4,49.3 L176.1,49.3 L176.9,49.3 L177.6,49.3 L178.3,49.3 L179.1,49.4 L179.8,49.4 L180.5,49.4 L181.2,49.4 L182.0,49.4 L182.7,49.4 L183.4,49.5 L184.2,49.5 L184.9,49.5 L185.6,49.5 L186.3,49.5 L187.1,49.6 L187.8,49.6 L188.5,49.6 L189.3,49.7 L190.0,49.7 L190.7,49.7 L191.5,49.8 L192.2,49.8 L192.9,49.9 L193.6,49.9 L194.4,49.9 L195.1,50.0 L195.8,50.1 L196.5,50.1 L197.3,50.2 L198.0,50.3 L198.7,50.3 L199.4,50.4 L200.1,50.5 L200.8,50.6 L201.5,50.7 L202.2,50.8 L202.9,50.9 L203.6,51.0 L204.3,51.1 L205.0,51.2 L205.7,51.4 L206.4,51.5 L207.1,51.7 L207.8,51.8 L208.5,52.0 L209.1,52.1 L209.8,52.3 L210.5,52.5 L211.2,52.7 L211.8,52.9 L212.5,53.1 L213.1,53.3 L213.8,53.5 L214.4,53.7 L215.1,54.0 L215.7,54.2 L216.3,54.5 L217.0,54.7 L217.6,55.0 L218.2,55.3 L218.8,55.5 L219.4,55.8 L220.0,56.1 L220.6,56.4 L221.2,56.8 L221.8,57.1 L222.4,57.4 L223.0,57.7 L223.6,58.1 L224.1,58.4 L224.7,58.8 L225.3,59.2 L225.8,59.5 L226.4,59.9 L226.9,60.3 L227.5,60.7 L228.0,61.1 L228.5,61.5 L229.0,61.9 L229.6,62.4 L230.1,62.8 L230.6,63.2 L231.1,63.7 L231.6,64.1 L232.0,64.6 L232.5,65.1 L233.0,65.5 L233.5,66.0 L233.9,66.5 L234.4,67.0 L234.8,67.5 L235.2,68.0 L235.7,68.6 L236.1,69.1 L236.5,69.6 L236.9,70.2 L237.3,70.7 L237.7,71.3 L238.1,71.8 L238.5,72.4 L238.9,73.0 L239.3,73.6 L239.6,74.1 L240.0,74.7 L240.3,75.3 L240.7,75.9 L241.0,76.5 L241.4,77.2 L241.7,77.8 L242.0,78.4 L242.4,79.0 L242.7,79.7 L243.0,80.3 L243.3,80.9 L243.6,81.6 L243.9,82.2 L244.2,82.9 L244.5,83.6 L244.8,84.2 L245.1,84.9 L245.4,85.5 L245.7,86.2 L245.9,86.9 L246.2,87.6 L246.5,88.3 L246.8,88.9 L247.0,89.6 L247.3,90.3 L247.6,91.0 L247.8,91.7 L248.1,92.4 L248.4,93.1 L248.6,93.8 L248.9,94.5 L249.1,95.2 L249.4,95.9 L249.7,96.6 L249.9,97.3 L250.2,98.0 L250.4,98.7 L250.7,99.4 L250.9,100.1 L251.2,100.8 L251.5,101.5 L251.7,102.2 L252.0,102.9 L252.2,103.6 L252.5,104.3 L252.7,105.0 L253.0,105.7 L253.3,106.4 L253.5,107.1 L253.8,107.8 L254.1,108.5 L254.3,109.2 L254.6,109.9 L254.9,110.6 L255.2,111.3 L255.4,112.0 L255.7,112.7 L256.0,113.4 L256.3,114.0 L256.6,114.7 L256.9,115.4 L257.1,116.1 L257.4,116.8 L257.7,117.4 L258.0,118.1 L258.3,118.8 L258.6,119.5 L258.9,120.1 L259.2,120.8 L259.5,121.5 L259.8,122.1 L260.1,122.8 L260.4,123.5 L260.7,124.1 L261.1,124.8 L261.4,125.4 L261.7,126.1 L262.0,126.7 L262.3,127.4 L262.7,128.0 L263.0,128.7 L263.3,129.3 L263.6,130.0 L264.0,130.6 L264.3,131.3 L264.6,131.9 L265.0,132.5 L265.3,133.2 L265.7,133.8 L266.0,134.4 L266.4,135.1 L266.7,135.7 L267.1,136.3 L267.4,136.9 L267.8,137.5 L268.2,138.1 L268.5,138.8 L268.9,139.4 L269.3,140.0 L269.6,140.6 L270.0,141.2 L270.4,141.8 L270.8,142.4 L271.1,143.0 L271.5,143.6 L271.9,144.2 L272.3,144.7 L272.7,145.3 L273.1,145.9 L273.5,146.5 L273.9,147.1 L274.3,147.6 L274.7,148.2 L275.1,148.8 L275.5,149.3 L276.0,149.9 L276.4,150.5 L276.8,151.0 L277.2,151.6 L277.6,152.1 L278.1,152.7 L278.5,153.2 L279.0,153.8 L279.4,154.3 L279.8,154.8 L280.3,155.4 L280.7,155.9 L281.2,156.4 L281.6,156.9 L282.1,157.5 L282.6,158.0 L283.0,158.5 L283.5,159.0 L284.0,159.5 L284.5,160.0 L284.9,160.5 L285.4,161.0 L285.9,161.5 L286.4,162.0 L286.9,162.5 L287.4,163.0 L287.9,163.4 L288.4,163.9 L288.9,164.4 L289.4,164.9 L289.9,165.3 L290.4,165.8 L291.0,166.3 L291.5,166.7 L292.0,167.2 L292.5,167.6 L293.1,168.0 L293.6,168.5 L294.2,168.9 L294.7,169.4 L295.3,169.8 L295.8,170.2 L296.4,170.6 L296.9,171.0 L297.5,171.5 L298.1,171.9 L298.6,172.3 L299.2,172.7 L299.8,173.1 L300.4,173.5 L301.0,173.8 L301.6,174.2 L302.2,174.6 L302.8,175.0 L303.4,175.4 L304.0,175.7 L304.6,176.1 L305.2,176.5 L305.8,176.8 L306.5,177.2 L307.1,177.5 L307.7,177.8 L308.4,178.2 L309.0,178.5 L309.6,178.9 L310.3,179.2 L310.9,179.5 L311.6,179.8 L312.2,180.1 L312.9,180.4 L313.6,180.8 L314.2,181.1 L314.9,181.4 L315.6,181.7 L316.2,181.9 L316.9,182.2 L317.6,182.5 L318.3,182.8 L318.9,183.1 L319.6,183.4 L320.3,183.6 L321.0,183.9 L321.7,184.2 L322.4,184.4 L323.1,184.7 L323.8,184.9 L324.4,185.2 L325.1,185.4 L325.8,185.7 L326.5,185.9 L327.2,186.1 L327.9,186.4 L328.6,186.6 L329.3,186.8 L330.0,187.0 L330.7,187.3 L331.4,187.5 L332.1,187.7 L332.9,187.9 L333.6,188.1 L334.3,188.3 L335.0,188.5 L335.7,188.7 L336.4,188.9 L337.1,189.1 L337.8,189.3 L338.5,189.5 L339.2,189.6 L339.9,189.8 L340.6,190.0 L341.3,190.2 L342.0,190.3 L342.7,190.5 L343.4,190.7 L344.1,190.8 L344.8,191.0 L345.5,191.1 L346.2,191.3 L346.9,191.4 L347.6,191.6 L348.3,191.7 L349.0,191.9 L349.6,192.0 L350.3,192.1 L351.0,192.3 L351.7,192.4 L352.4,192.5 L353.1,192.7 L353.7,192.8 L354.4,192.9 L355.1,193.0 L355.7,193.1 L356.4,193.3 L357.1,193.4" fill="none" stroke="#963c96" stroke-width="1.6" stroke-linejoin="round" stroke-linecap="round"/>
<path d="M87.20,132.80 Q139.05,138.50 190.90,164.60" fill="none" stroke="#303030" stroke-width="1.15"/>
<path d="M87.20,127.40 Q139.05,136.40 190.90,158.20" fill="none" stroke="#d83a3e" stroke-width="1.15"/>
<path d="M87.20,130.50 Q139.05,137.65 190.90,164.20" fill="none" stroke="#bdb35a" stroke-width="1.15"/>
<path d="M87.20,128.20 Q139.05,137.00 190.90,160.20" fill="none" stroke="#328a32" stroke-width="1.15"/>
<path d="M87.20,126.50 Q139.05,135.45 190.90,155.40" fill="none" stroke="#963c96" stroke-width="1.15"/>
<rect x="87.20" y="98.30" width="103.70" height="91.70" fill="none" stroke="#575757" stroke-width="1.35"/>
<line x1="87.20" y1="190.00" x2="89.40" y2="190.00" stroke="#555" stroke-width="1.00"/>
<text x="85.30" y="192.40" font-size="7.40" text-anchor="end" font-weight="normal" fill="#111" textLength="7.0" lengthAdjust="spacingAndGlyphs">96</text>
<line x1="87.20" y1="178.54" x2="88.70" y2="178.54" stroke="#555" stroke-width="0.90"/>
<line x1="87.20" y1="167.07" x2="89.40" y2="167.07" stroke="#555" stroke-width="1.00"/>
<text x="85.30" y="169.47" font-size="7.40" text-anchor="end" font-weight="normal" fill="#111" textLength="7.0" lengthAdjust="spacingAndGlyphs">97</text>
<line x1="87.20" y1="155.61" x2="88.70" y2="155.61" stroke="#555" stroke-width="0.90"/>
<line x1="87.20" y1="144.15" x2="89.40" y2="144.15" stroke="#555" stroke-width="1.00"/>
<text x="85.30" y="146.55" font-size="7.40" text-anchor="end" font-weight="normal" fill="#111" textLength="7.0" lengthAdjust="spacingAndGlyphs">98</text>
<line x1="87.20" y1="132.69" x2="88.70" y2="132.69" stroke="#555" stroke-width="0.90"/>
<line x1="87.20" y1="121.22" x2="89.40" y2="121.22" stroke="#555" stroke-width="1.00"/>
<text x="85.30" y="123.62" font-size="7.40" text-anchor="end" font-weight="normal" fill="#111" textLength="7.0" lengthAdjust="spacingAndGlyphs">99</text>
<line x1="87.20" y1="109.76" x2="88.70" y2="109.76" stroke="#555" stroke-width="0.90"/>
<line x1="87.20" y1="98.30" x2="89.40" y2="98.30" stroke="#555" stroke-width="1.00"/>
<text x="85.30" y="100.70" font-size="7.40" text-anchor="end" font-weight="normal" fill="#111" textLength="10.5" lengthAdjust="spacingAndGlyphs">100</text>
<line x1="87.20" y1="190.00" x2="87.20" y2="187.80" stroke="#555" stroke-width="1.00"/>
<text x="87.20" y="197.50" font-size="7.40" text-anchor="middle" font-weight="normal" fill="#111" textLength="10.4" lengthAdjust="spacingAndGlyphs">355</text>
<line x1="113.12" y1="190.00" x2="113.12" y2="187.80" stroke="#555" stroke-width="1.00"/>
<text x="113.12" y="197.50" font-size="7.40" text-anchor="middle" font-weight="normal" fill="#111" textLength="10.4" lengthAdjust="spacingAndGlyphs">360</text>
<line x1="139.05" y1="190.00" x2="139.05" y2="187.80" stroke="#555" stroke-width="1.00"/>
<text x="139.05" y="197.50" font-size="7.40" text-anchor="middle" font-weight="normal" fill="#111" textLength="10.4" lengthAdjust="spacingAndGlyphs">365</text>
<line x1="164.98" y1="190.00" x2="164.98" y2="187.80" stroke="#555" stroke-width="1.00"/>
<text x="164.98" y="197.50" font-size="7.40" text-anchor="middle" font-weight="normal" fill="#111" textLength="10.4" lengthAdjust="spacingAndGlyphs">370</text>
<line x1="190.90" y1="190.00" x2="190.90" y2="187.80" stroke="#555" stroke-width="1.00"/>
<text x="190.90" y="197.50" font-size="7.40" text-anchor="middle" font-weight="normal" fill="#111" textLength="10.4" lengthAdjust="spacingAndGlyphs">375</text>
<line x1="221.20" y1="68.00" x2="198.70" y2="98.30" stroke="#333" stroke-width="1.10"/>
<polygon points="198.70,98.30 200.59,91.23 202.43,93.28 204.92,94.45" fill="#222"/>
<line x1="437.30" y1="8.60" x2="437.30" y2="255.70" stroke="#6e6e6e" stroke-width="1.80"/>
<line x1="436.80" y1="255.20" x2="739.60" y2="255.20" stroke="#6e6e6e" stroke-width="1.80"/>
<line x1="432.70" y1="255.20" x2="437.30" y2="255.20" stroke="#555" stroke-width="1.40"/>
<text x="429.30" y="259.00" font-size="13.60" text-anchor="end" font-weight="normal" fill="#1e1e1e" textLength="6.4" lengthAdjust="spacingAndGlyphs">0</text>
<line x1="434.70" y1="234.65" x2="437.30" y2="234.65" stroke="#555" stroke-width="1.20"/>
<line x1="432.70" y1="214.10" x2="437.30" y2="214.10" stroke="#555" stroke-width="1.40"/>
<text x="429.30" y="217.90" font-size="13.60" text-anchor="end" font-weight="normal" fill="#1e1e1e" textLength="12.8" lengthAdjust="spacingAndGlyphs">20</text>
<line x1="434.70" y1="193.55" x2="437.30" y2="193.55" stroke="#555" stroke-width="1.20"/>
<line x1="432.70" y1="173.00" x2="437.30" y2="173.00" stroke="#555" stroke-width="1.40"/>
<text x="429.30" y="176.80" font-size="13.60" text-anchor="end" font-weight="normal" fill="#1e1e1e" textLength="12.8" lengthAdjust="spacingAndGlyphs">40</text>
<line x1="434.70" y1="152.45" x2="437.30" y2="152.45" stroke="#555" stroke-width="1.20"/>
<line x1="432.70" y1="131.90" x2="437.30" y2="131.90" stroke="#555" stroke-width="1.40"/>
<text x="429.30" y="135.70" font-size="13.60" text-anchor="end" font-weight="normal" fill="#1e1e1e" textLength="12.8" lengthAdjust="spacingAndGlyphs">60</text>
<line x1="434.70" y1="111.35" x2="437.30" y2="111.35" stroke="#555" stroke-width="1.20"/>
<line x1="432.70" y1="90.80" x2="437.30" y2="90.80" stroke="#555" stroke-width="1.40"/>
<text x="429.30" y="94.60" font-size="13.60" text-anchor="end" font-weight="normal" fill="#1e1e1e" textLength="12.8" lengthAdjust="spacingAndGlyphs">80</text>
<line x1="434.70" y1="70.25" x2="437.30" y2="70.25" stroke="#555" stroke-width="1.20"/>
<line x1="432.70" y1="49.70" x2="437.30" y2="49.70" stroke="#555" stroke-width="1.40"/>
<text x="429.30" y="53.50" font-size="13.60" text-anchor="end" font-weight="normal" fill="#1e1e1e" textLength="19.2" lengthAdjust="spacingAndGlyphs">100</text>
<line x1="434.70" y1="29.15" x2="437.30" y2="29.15" stroke="#555" stroke-width="1.20"/>
<line x1="432.70" y1="8.60" x2="437.30" y2="8.60" stroke="#555" stroke-width="1.40"/>
<text x="429.30" y="12.40" font-size="13.60" text-anchor="end" font-weight="normal" fill="#1e1e1e" textLength="19.2" lengthAdjust="spacingAndGlyphs">120</text>
<line x1="437.30" y1="255.20" x2="437.30" y2="259.80" stroke="#555" stroke-width="1.40"/>
<text x="437.30" y="273.20" font-size="13.60" text-anchor="middle" font-weight="normal" fill="#1e1e1e" textLength="6.4" lengthAdjust="spacingAndGlyphs">0</text>
<line x1="458.89" y1="255.20" x2="458.89" y2="258.00" stroke="#555" stroke-width="1.20"/>
<line x1="480.49" y1="255.20" x2="480.49" y2="259.80" stroke="#555" stroke-width="1.40"/>
<text x="480.49" y="273.20" font-size="13.60" text-anchor="middle" font-weight="normal" fill="#1e1e1e" textLength="19.2" lengthAdjust="spacingAndGlyphs">100</text>
<line x1="502.08" y1="255.20" x2="502.08" y2="258.00" stroke="#555" stroke-width="1.20"/>
<line x1="523.67" y1="255.20" x2="523.67" y2="259.80" stroke="#555" stroke-width="1.40"/>
<text x="523.67" y="273.20" font-size="13.60" text-anchor="middle" font-weight="normal" fill="#1e1e1e" textLength="19.2" lengthAdjust="spacingAndGlyphs">200</text>
<line x1="545.26" y1="255.20" x2="545.26" y2="258.00" stroke="#555" stroke-width="1.20"/>
<line x1="566.86" y1="255.20" x2="566.86" y2="259.80" stroke="#555" stroke-width="1.40"/>
<text x="566.86" y="273.20" font-size="13.60" text-anchor="middle" font-weight="normal" fill="#1e1e1e" textLength="19.2" lengthAdjust="spacingAndGlyphs">300</text>
<line x1="588.45" y1="255.20" x2="588.45" y2="258.00" stroke="#555" stroke-width="1.20"/>
<line x1="610.04" y1="255.20" x2="610.04" y2="259.80" stroke="#555" stroke-width="1.40"/>
<text x="610.04" y="273.20" font-size="13.60" text-anchor="middle" font-weight="normal" fill="#1e1e1e" textLength="19.2" lengthAdjust="spacingAndGlyphs">400</text>
<line x1="631.64" y1="255.20" x2="631.64" y2="258.00" stroke="#555" stroke-width="1.20"/>
<line x1="653.23" y1="255.20" x2="653.23" y2="259.80" stroke="#555" stroke-width="1.40"/>
<text x="653.23" y="273.20" font-size="13.60" text-anchor="middle" font-weight="normal" fill="#1e1e1e" textLength="19.2" lengthAdjust="spacingAndGlyphs">500</text>
<line x1="674.82" y1="255.20" x2="674.82" y2="258.00" stroke="#555" stroke-width="1.20"/>
<line x1="696.41" y1="255.20" x2="696.41" y2="259.80" stroke="#555" stroke-width="1.40"/>
<text x="696.41" y="273.20" font-size="13.60" text-anchor="middle" font-weight="normal" fill="#1e1e1e" textLength="19.2" lengthAdjust="spacingAndGlyphs">600</text>
<line x1="718.01" y1="255.20" x2="718.01" y2="258.00" stroke="#555" stroke-width="1.20"/>
<line x1="739.60" y1="255.20" x2="739.60" y2="259.80" stroke="#555" stroke-width="1.40"/>
<text x="739.60" y="273.20" font-size="13.60" text-anchor="middle" font-weight="normal" fill="#1e1e1e" textLength="19.2" lengthAdjust="spacingAndGlyphs">700</text>
<text x="588.75" y="292.70" font-size="15.50" text-anchor="middle" font-weight="bold" fill="#111" textLength="115.7" lengthAdjust="spacingAndGlyphs">Temperature (°C)</text>
<text transform="translate(405.80,126.25) rotate(-90)" x="0" y="0" font-size="15.8" font-weight="bold" fill="#111" text-anchor="middle" textLength="111.1" lengthAdjust="spacingAndGlyphs">Weight Loss (%)</text>
<text x="379.60" y="18.60" font-size="20.00" text-anchor="start" font-weight="normal" fill="#1a1a1a" textLength="23.0" lengthAdjust="spacingAndGlyphs">(b)</text>
<text x="635.30" y="13.90" font-size="14.30" text-anchor="start" font-weight="bold" fill="#111" textLength="108.7" lengthAdjust="spacingAndGlyphs">Heat Treat. (°C/h)</text>
<line x1="668.20" y1="25.20" x2="703.20" y2="25.20" stroke="#bdb35a" stroke-width="1.75"/>
<text x="705.60" y="30.00" font-size="14.00" text-anchor="start" font-weight="normal" fill="#1a1a1a" textLength="29.6" lengthAdjust="spacingAndGlyphs">230/3</text>
<line x1="668.20" y1="44.40" x2="703.20" y2="44.40" stroke="#f58223" stroke-width="1.75"/>
<text x="705.60" y="49.20" font-size="14.00" text-anchor="start" font-weight="normal" fill="#1a1a1a" textLength="29.6" lengthAdjust="spacingAndGlyphs">230/6</text>
<line x1="668.20" y1="63.40" x2="703.20" y2="63.40" stroke="#8c5032" stroke-width="1.75"/>
<text x="705.60" y="68.20" font-size="14.00" text-anchor="start" font-weight="normal" fill="#1a1a1a" textLength="29.6" lengthAdjust="spacingAndGlyphs">230/9</text>
<line x1="668.20" y1="82.30" x2="703.20" y2="82.30" stroke="#232382" stroke-width="1.75"/>
<text x="705.60" y="87.10" font-size="14.00" text-anchor="start" font-weight="normal" fill="#1a1a1a" textLength="35.6" lengthAdjust="spacingAndGlyphs">230/12</text>
<path d="M449.9,49.6 L450.6,49.6 L451.4,49.6 L452.1,49.6 L452.8,49.6 L453.6,49.6 L454.3,49.6 L455.1,49.6 L455.8,49.6 L456.6,49.6 L457.3,49.6 L458.0,49.6 L458.8,49.6 L459.5,49.6 L460.3,49.6 L461.0,49.6 L461.7,49.6 L462.5,49.6 L463.2,49.6 L464.0,49.6 L464.7,49.6 L465.4,49.6 L466.2,49.6 L466.9,49.6 L467.7,49.6 L468.4,49.6 L469.1,49.6 L469.9,49.6 L470.6,49.6 L471.3,49.6 L472.1,49.6 L472.8,49.6 L473.5,49.6 L474.3,49.6 L475.0,49.6 L475.7,49.6 L476.5,49.6 L477.2,49.6 L477.9,49.6 L478.7,49.6 L479.4,49.6 L480.1,49.6 L480.8,49.6 L481.6,49.6 L482.3,49.6 L483.0,49.6 L483.8,49.6 L484.5,49.6 L485.2,49.6 L486.0,49.6 L486.7,49.6 L487.4,49.6 L488.1,49.6 L488.9,49.6 L489.6,49.6 L490.3,49.6 L491.1,49.6 L491.8,49.6 L492.5,49.6 L493.2,49.6 L494.0,49.6 L494.7,49.6 L495.4,49.6 L496.2,49.6 L496.9,49.6 L497.6,49.6 L498.3,49.6 L499.1,49.6 L499.8,49.6 L500.5,49.7 L501.2,49.7 L502.0,49.7 L502.7,49.7 L503.4,49.7 L504.2,49.7 L504.9,49.7 L505.6,49.7 L506.3,49.7 L507.1,49.7 L507.8,49.7 L508.5,49.7 L509.2,49.7 L510.0,49.7 L510.7,49.7 L511.4,49.7 L512.2,49.7 L512.9,49.7 L513.6,49.7 L514.3,49.7 L515.1,49.7 L515.8,49.7 L516.5,49.7 L517.3,49.7 L518.0,49.7 L518.7,49.7 L519.4,49.7 L520.2,49.7 L520.9,49.7 L521.6,49.7 L522.4,49.7 L523.1,49.7 L523.8,49.7 L524.6,49.7 L525.3,49.7 L526.0,49.7 L526.7,49.7 L527.5,49.7 L528.2,49.7 L528.9,49.7 L529.7,49.7 L530.4,49.7 L531.1,49.6 L531.9,49.6 L532.6,49.6 L533.3,49.6 L534.1,49.6 L534.8,49.6 L535.5,49.6 L536.3,49.6 L537.0,49.6 L537.8,49.6 L538.5,49.6 L539.2,49.6 L540.0,49.6 L540.7,49.6 L541.4,49.6 L542.2,49.6 L542.9,49.6 L543.7,49.6 L544.4,49.6 L545.1,49.6 L545.9,49.6 L546.6,49.6 L547.4,49.6 L548.1,49.6 L548.8,49.6 L549.6,49.5 L550.3,49.5 L551.1,49.5 L551.8,49.5 L552.6,49.5 L553.3,49.5 L554.0,49.5 L554.8,49.5 L555.5,49.5 L556.3,49.5 L557.0,49.5 L557.8,49.5 L558.5,49.5 L559.3,49.5 L560.0,49.5 L560.8,49.5 L561.5,49.5 L562.3,49.5 L563.0,49.5 L563.8,49.5 L564.5,49.5 L565.3,49.5 L566.0,49.5 L566.7,49.5 L567.5,49.5 L568.2,49.6 L569.0,49.6 L569.7,49.6 L570.4,49.7 L571.2,49.7 L571.9,49.7 L572.7,49.8 L573.4,49.8 L574.1,49.9 L574.9,50.0 L575.6,50.0 L576.3,50.1 L577.0,50.2 L577.8,50.3 L578.5,50.4 L579.2,50.5 L579.9,50.6 L580.6,50.7 L581.3,50.8 L582.0,50.9 L582.8,51.0 L583.5,51.2 L584.2,51.3 L584.9,51.5 L585.6,51.7 L586.2,51.8 L586.9,52.0 L587.6,52.2 L588.3,52.4 L589.0,52.6 L589.7,52.8 L590.3,53.0 L591.0,53.3 L591.6,53.5 L592.3,53.7 L593.0,54.0 L593.6,54.3 L594.2,54.5 L594.9,54.8 L595.5,55.1 L596.1,55.4 L596.8,55.7 L597.4,56.0 L598.0,56.4 L598.6,56.7 L599.2,57.1 L599.8,57.4 L600.4,57.8 L601.0,58.2 L601.5,58.6 L602.1,58.9 L602.7,59.4 L603.2,59.8 L603.8,60.2 L604.3,60.6 L604.9,61.1 L605.4,61.5 L605.9,62.0 L606.4,62.4 L606.9,62.9 L607.4,63.4 L607.9,63.9 L608.4,64.4 L608.9,64.9 L609.4,65.4 L609.9,65.9 L610.3,66.4 L610.8,66.9 L611.3,67.5 L611.7,68.0 L612.2,68.6 L612.6,69.1 L613.0,69.7 L613.4,70.3 L613.8,70.9 L614.3,71.4 L614.7,72.0 L615.1,72.6 L615.4,73.2 L615.8,73.8 L616.2,74.4 L616.6,75.0 L617.0,75.7 L617.3,76.3 L617.7,76.9 L618.0,77.6 L618.4,78.2 L618.7,78.8 L619.1,79.5 L619.4,80.1 L619.7,80.8 L620.0,81.5 L620.4,82.1 L620.7,82.8 L621.0,83.5 L621.3,84.1 L621.6,84.8 L621.9,85.5 L622.2,86.2 L622.5,86.9 L622.8,87.6 L623.1,88.3 L623.4,89.0 L623.6,89.7 L623.9,90.4 L624.2,91.1 L624.5,91.8 L624.8,92.5 L625.0,93.2 L625.3,93.9 L625.6,94.6 L625.8,95.3 L626.1,96.0 L626.4,96.8 L626.6,97.5 L626.9,98.2 L627.1,98.9 L627.4,99.6 L627.7,100.4 L627.9,101.1 L628.2,101.8 L628.4,102.5 L628.7,103.2 L628.9,104.0 L629.2,104.7 L629.4,105.4 L629.7,106.1 L630.0,106.9 L630.2,107.6 L630.5,108.3 L630.7,109.0 L631.0,109.8 L631.3,110.5 L631.5,111.2 L631.8,111.9 L632.0,112.6 L632.3,113.3 L632.6,114.0 L632.8,114.8 L633.1,115.5 L633.4,116.2 L633.7,116.9 L633.9,117.6 L634.2,118.3 L634.5,119.0 L634.8,119.7 L635.1,120.4 L635.3,121.1 L635.6,121.7 L635.9,122.4 L636.2,123.1 L636.5,123.8 L636.8,124.5 L637.1,125.1 L637.5,125.8 L637.8,126.5 L638.1,127.1 L638.4,127.8 L638.7,128.5 L639.0,129.1 L639.4,129.8 L639.7,130.4 L640.0,131.1 L640.4,131.7 L640.7,132.4 L641.0,133.0 L641.4,133.6 L641.7,134.3 L642.1,134.9 L642.4,135.5 L642.8,136.2 L643.2,136.8 L643.5,137.4 L643.9,138.0 L644.3,138.6 L644.7,139.2 L645.0,139.9 L645.4,140.5 L645.8,141.1 L646.2,141.7 L646.6,142.3 L647.0,142.8 L647.4,143.4 L647.8,144.0 L648.2,144.6 L648.6,145.2 L649.0,145.8 L649.4,146.3 L649.9,146.9 L650.3,147.5 L650.7,148.0 L651.2,148.6 L651.6,149.1 L652.1,149.7 L652.5,150.2 L653.0,150.8 L653.4,151.3 L653.9,151.9 L654.3,152.4 L654.8,152.9 L655.3,153.5 L655.8,154.0 L656.2,154.5 L656.7,155.0 L657.2,155.5 L657.7,156.1 L658.2,156.6 L658.7,157.1 L659.2,157.6 L659.7,158.1 L660.3,158.6 L660.8,159.1 L661.3,159.5 L661.8,160.0 L662.3,160.5 L662.9,161.0 L663.4,161.5 L664.0,162.0 L664.5,162.4 L665.0,162.9 L665.6,163.4 L666.1,163.8 L666.7,164.3 L667.3,164.8 L667.8,165.2 L668.4,165.7 L668.9,166.1 L669.5,166.6 L670.1,167.0 L670.7,167.5 L671.2,167.9 L671.8,168.4 L672.4,168.8 L673.0,169.2 L673.6,169.7 L674.2,170.1 L674.7,170.5 L675.3,171.0 L675.9,171.4 L676.5,171.8 L677.1,172.3 L677.7,172.7 L678.3,173.1 L678.9,173.5 L679.5,174.0 L680.1,174.4 L680.8,174.8 L681.4,175.2 L682.0,175.6 L682.6,176.1 L683.2,176.5 L683.8,176.9 L684.4,177.3 L685.0,177.7 L685.7,178.1 L686.3,178.6 L686.9,179.0 L687.5,179.4 L688.1,179.8 L688.8,180.2 L689.4,180.6 L690.0,181.0 L690.6,181.4 L691.3,181.8 L691.9,182.2 L692.5,182.6 L693.1,183.1 L693.7,183.5 L694.4,183.9 L695.0,184.3 L695.6,184.7 L696.2,185.1 L696.9,185.5 L697.5,185.9 L698.1,186.3 L698.7,186.7 L699.4,187.1 L700.0,187.6 L700.6,188.0 L701.2,188.4 L701.8,188.8 L702.5,189.2 L703.1,189.6 L703.7,190.0 L704.3,190.5 L704.9,190.9 L705.5,191.3 L706.2,191.7 L706.8,192.1 L707.4,192.5 L708.0,193.0 L708.6,193.4 L709.2,193.8 L709.8,194.2 L710.4,194.7 L711.0,195.1 L711.6,195.5 L712.2,196.0 L712.8,196.4 L713.4,196.8 L714.0,197.3 L714.6,197.7 L715.2,198.1 L715.8,198.6 L716.3,199.0 L716.9,199.5 L717.5,199.9 L718.1,200.4 L718.7,200.8 L719.2,201.3 L719.8,201.7 L720.4,202.2 L720.9,202.7 L721.5,203.1 L722.0,203.6 L722.6,204.0 L723.1,204.5 L723.7,205.0 L724.2,205.5 L724.8,205.9 L725.3,206.4 L725.9,206.9 L726.4,207.4 L726.9,207.9 L727.4,208.4 L728.0,208.9 L728.5,209.4 L729.0,209.9 L729.5,210.4 L730.0,210.9 L730.5,211.4 L731.0,211.9 L731.5,212.4 L732.0,213.0 L732.5,213.5 L733.0,214.0 L733.5,214.6 L733.9,215.1 L734.4,215.6" fill="none" stroke="#bdb35a" stroke-width="1.6" stroke-linejoin="round" stroke-linecap="round"/>
<path d="M449.9,49.6 L450.6,49.6 L451.4,49.6 L452.1,49.6 L452.9,49.6 L453.6,49.6 L454.4,49.6 L455.1,49.6 L455.8,49.6 L456.6,49.6 L457.3,49.6 L458.1,49.6 L458.8,49.6 L459.6,49.6 L460.3,49.6 L461.1,49.6 L461.8,49.6 L462.6,49.6 L463.3,49.6 L464.0,49.6 L464.8,49.6 L465.5,49.6 L466.3,49.6 L467.0,49.6 L467.7,49.6 L468.5,49.6 L469.2,49.6 L470.0,49.6 L470.7,49.6 L471.4,49.6 L472.2,49.6 L472.9,49.6 L473.7,49.6 L474.4,49.6 L475.1,49.6 L475.9,49.6 L476.6,49.6 L477.3,49.6 L478.1,49.6 L478.8,49.6 L479.5,49.6 L480.3,49.6 L481.0,49.6 L481.7,49.6 L482.5,49.6 L483.2,49.6 L483.9,49.6 L484.7,49.6 L485.4,49.6 L486.1,49.6 L486.9,49.6 L487.6,49.6 L488.3,49.6 L489.1,49.6 L489.8,49.6 L490.5,49.6 L491.3,49.6 L492.0,49.6 L492.7,49.6 L493.5,49.6 L494.2,49.6 L494.9,49.6 L495.7,49.6 L496.4,49.7 L497.1,49.7 L497.9,49.7 L498.6,49.7 L499.3,49.7 L500.0,49.7 L500.8,49.7 L501.5,49.7 L502.2,49.7 L503.0,49.7 L503.7,49.7 L504.4,49.7 L505.2,49.7 L505.9,49.7 L506.6,49.7 L507.4,49.7 L508.1,49.7 L508.8,49.7 L509.5,49.7 L510.3,49.7 L511.0,49.7 L511.7,49.7 L512.5,49.7 L513.2,49.7 L513.9,49.7 L514.7,49.7 L515.4,49.7 L516.1,49.7 L516.9,49.7 L517.6,49.7 L518.3,49.7 L519.1,49.7 L519.8,49.7 L520.5,49.7 L521.3,49.7 L522.0,49.7 L522.7,49.7 L523.5,49.7 L524.2,49.7 L524.9,49.6 L525.7,49.6 L526.4,49.6 L527.1,49.6 L527.9,49.6 L528.6,49.6 L529.3,49.6 L530.1,49.6 L530.8,49.6 L531.6,49.6 L532.3,49.6 L533.0,49.6 L533.8,49.6 L534.5,49.6 L535.2,49.6 L536.0,49.6 L536.7,49.6 L537.5,49.6 L538.2,49.6 L538.9,49.6 L539.7,49.6 L540.4,49.6 L541.2,49.6 L541.9,49.6 L542.7,49.6 L543.4,49.6 L544.1,49.6 L544.9,49.6 L545.6,49.6 L546.4,49.6 L547.1,49.6 L547.9,49.5 L548.6,49.5 L549.4,49.5 L550.1,49.5 L550.8,49.5 L551.6,49.5 L552.3,49.5 L553.1,49.5 L553.8,49.5 L554.6,49.5 L555.3,49.5 L556.1,49.5 L556.8,49.5 L557.6,49.5 L558.4,49.5 L559.1,49.5 L559.9,49.5 L560.6,49.5 L561.4,49.5 L562.1,49.5 L562.9,49.5 L563.6,49.5 L564.4,49.5 L565.1,49.5 L565.9,49.5 L566.6,49.5 L567.4,49.5 L568.1,49.6 L568.8,49.6 L569.6,49.6 L570.3,49.7 L571.1,49.7 L571.8,49.7 L572.6,49.8 L573.3,49.8 L574.0,49.9 L574.8,50.0 L575.5,50.0 L576.2,50.1 L577.0,50.2 L577.7,50.3 L578.4,50.4 L579.1,50.5 L579.9,50.6 L580.6,50.7 L581.3,50.8 L582.0,50.9 L582.7,51.1 L583.4,51.2 L584.1,51.4 L584.8,51.5 L585.5,51.7 L586.2,51.8 L586.9,52.0 L587.6,52.2 L588.3,52.4 L589.0,52.6 L589.6,52.8 L590.3,53.1 L591.0,53.3 L591.7,53.5 L592.3,53.8 L593.0,54.0 L593.6,54.3 L594.3,54.6 L594.9,54.9 L595.5,55.1 L596.2,55.4 L596.8,55.8 L597.4,56.1 L598.0,56.4 L598.6,56.7 L599.2,57.1 L599.8,57.5 L600.4,57.8 L601.0,58.2 L601.6,58.6 L602.1,59.0 L602.7,59.4 L603.3,59.8 L603.8,60.2 L604.4,60.7 L604.9,61.1 L605.4,61.6 L606.0,62.0 L606.5,62.5 L607.0,63.0 L607.5,63.4 L608.0,63.9 L608.5,64.4 L609.0,64.9 L609.5,65.4 L609.9,66.0 L610.4,66.5 L610.9,67.0 L611.3,67.6 L611.8,68.1 L612.2,68.7 L612.6,69.2 L613.1,69.8 L613.5,70.4 L613.9,71.0 L614.3,71.5 L614.7,72.1 L615.1,72.7 L615.5,73.3 L615.9,73.9 L616.2,74.6 L616.6,75.2 L617.0,75.8 L617.3,76.4 L617.7,77.1 L618.0,77.7 L618.4,78.4 L618.7,79.0 L619.1,79.7 L619.4,80.3 L619.7,81.0 L620.0,81.7 L620.4,82.3 L620.7,83.0 L621.0,83.7 L621.3,84.4 L621.6,85.0 L621.9,85.7 L622.2,86.4 L622.5,87.1 L622.8,87.8 L623.0,88.5 L623.3,89.2 L623.6,89.9 L623.9,90.6 L624.2,91.4 L624.4,92.1 L624.7,92.8 L625.0,93.5 L625.2,94.2 L625.5,94.9 L625.8,95.7 L626.0,96.4 L626.3,97.1 L626.5,97.8 L626.8,98.6 L627.0,99.3 L627.3,100.0 L627.6,100.7 L627.8,101.5 L628.1,102.2 L628.3,102.9 L628.6,103.7 L628.8,104.4 L629.1,105.1 L629.3,105.9 L629.6,106.6 L629.8,107.3 L630.1,108.0 L630.3,108.8 L630.6,109.5 L630.8,110.2 L631.1,110.9 L631.4,111.7 L631.6,112.4 L631.9,113.1 L632.1,113.8 L632.4,114.6 L632.7,115.3 L633.0,116.0 L633.2,116.7 L633.5,117.4 L633.8,118.1 L634.0,118.8 L634.3,119.5 L634.6,120.2 L634.9,120.9 L635.2,121.6 L635.5,122.3 L635.8,123.0 L636.1,123.7 L636.4,124.3 L636.7,125.0 L637.0,125.7 L637.3,126.4 L637.6,127.1 L637.9,127.7 L638.2,128.4 L638.6,129.0 L638.9,129.7 L639.2,130.4 L639.5,131.0 L639.9,131.7 L640.2,132.3 L640.5,133.0 L640.9,133.6 L641.2,134.2 L641.6,134.9 L641.9,135.5 L642.3,136.1 L642.7,136.8 L643.0,137.4 L643.4,138.0 L643.8,138.6 L644.1,139.3 L644.5,139.9 L644.9,140.5 L645.3,141.1 L645.7,141.7 L646.1,142.3 L646.5,142.9 L646.9,143.5 L647.3,144.1 L647.7,144.6 L648.1,145.2 L648.5,145.8 L648.9,146.4 L649.3,147.0 L649.8,147.5 L650.2,148.1 L650.6,148.7 L651.1,149.2 L651.5,149.8 L652.0,150.3 L652.4,150.9 L652.9,151.4 L653.3,152.0 L653.8,152.5 L654.3,153.0 L654.8,153.6 L655.2,154.1 L655.7,154.6 L656.2,155.2 L656.7,155.7 L657.2,156.2 L657.7,156.7 L658.2,157.2 L658.7,157.7 L659.2,158.2 L659.7,158.7 L660.3,159.2 L660.8,159.7 L661.3,160.2 L661.8,160.7 L662.4,161.2 L662.9,161.6 L663.5,162.1 L664.0,162.6 L664.5,163.1 L665.1,163.5 L665.6,164.0 L666.2,164.5 L666.8,164.9 L667.3,165.4 L667.9,165.9 L668.5,166.3 L669.0,166.8 L669.6,167.2 L670.2,167.7 L670.8,168.1 L671.3,168.6 L671.9,169.0 L672.5,169.5 L673.1,169.9 L673.7,170.4 L674.3,170.8 L674.9,171.2 L675.5,171.7 L676.1,172.1 L676.7,172.5 L677.3,173.0 L677.9,173.4 L678.5,173.8 L679.1,174.2 L679.7,174.7 L680.3,175.1 L680.9,175.5 L681.5,175.9 L682.1,176.4 L682.8,176.8 L683.4,177.2 L684.0,177.6 L684.6,178.1 L685.2,178.5 L685.8,178.9 L686.5,179.3 L687.1,179.7 L687.7,180.1 L688.3,180.6 L689.0,181.0 L689.6,181.4 L690.2,181.8 L690.8,182.2 L691.4,182.6 L692.1,183.1 L692.7,183.5 L693.3,183.9 L693.9,184.3 L694.6,184.7 L695.2,185.1 L695.8,185.6 L696.4,186.0 L697.1,186.4 L697.7,186.8 L698.3,187.2 L698.9,187.6 L699.5,188.1 L700.2,188.5 L700.8,188.9 L701.4,189.3 L702.0,189.7 L702.6,190.2 L703.3,190.6 L703.9,191.0 L704.5,191.4 L705.1,191.9 L705.7,192.3 L706.3,192.7 L706.9,193.2 L707.5,193.6 L708.1,194.0 L708.7,194.5 L709.3,194.9 L709.9,195.3 L710.5,195.8 L711.1,196.2 L711.7,196.7 L712.3,197.1 L712.9,197.6 L713.5,198.0 L714.1,198.5 L714.7,198.9 L715.2,199.4 L715.8,199.8 L716.4,200.3 L717.0,200.8 L717.5,201.2 L718.1,201.7 L718.7,202.2 L719.2,202.6 L719.8,203.1 L720.3,203.6 L720.9,204.1 L721.4,204.5 L722.0,205.0 L722.5,205.5 L723.1,206.0 L723.6,206.5 L724.1,207.0 L724.7,207.5 L725.2,208.0 L725.7,208.5 L726.2,209.0 L726.8,209.5 L727.3,210.0 L727.8,210.5 L728.3,211.1 L728.8,211.6 L729.3,212.1 L729.8,212.7 L730.3,213.2 L730.7,213.7 L731.2,214.3 L731.7,214.8 L732.2,215.4 L732.6,215.9 L733.1,216.5 L733.5,217.0 L734.0,217.6 L734.4,218.2" fill="none" stroke="#f58223" stroke-width="1.6" stroke-linejoin="round" stroke-linecap="round"/>
<path d="M449.8,49.7 L450.6,49.7 L451.3,49.7 L452.1,49.6 L452.8,49.6 L453.6,49.6 L454.4,49.6 L455.1,49.6 L455.9,49.6 L456.6,49.6 L457.4,49.6 L458.1,49.6 L458.9,49.6 L459.6,49.6 L460.4,49.6 L461.1,49.6 L461.9,49.6 L462.6,49.6 L463.4,49.6 L464.1,49.6 L464.9,49.6 L465.6,49.6 L466.4,49.6 L467.1,49.6 L467.9,49.6 L468.6,49.6 L469.4,49.6 L470.1,49.6 L470.9,49.6 L471.6,49.6 L472.4,49.6 L473.1,49.6 L473.9,49.6 L474.6,49.6 L475.3,49.6 L476.1,49.6 L476.8,49.6 L477.6,49.6 L478.3,49.6 L479.0,49.6 L479.8,49.6 L480.5,49.6 L481.3,49.6 L482.0,49.6 L482.8,49.6 L483.5,49.6 L484.2,49.6 L485.0,49.6 L485.7,49.6 L486.4,49.6 L487.2,49.6 L487.9,49.6 L488.7,49.6 L489.4,49.6 L490.1,49.6 L490.9,49.6 L491.6,49.6 L492.3,49.6 L493.1,49.6 L493.8,49.6 L494.6,49.6 L495.3,49.6 L496.0,49.6 L496.8,49.6 L497.5,49.6 L498.2,49.6 L499.0,49.6 L499.7,49.6 L500.4,49.6 L501.2,49.6 L501.9,49.6 L502.6,49.6 L503.4,49.6 L504.1,49.6 L504.8,49.6 L505.6,49.6 L506.3,49.6 L507.0,49.6 L507.8,49.6 L508.5,49.6 L509.3,49.6 L510.0,49.6 L510.7,49.6 L511.5,49.7 L512.2,49.7 L512.9,49.7 L513.7,49.7 L514.4,49.7 L515.1,49.7 L515.9,49.7 L516.6,49.7 L517.3,49.7 L518.1,49.7 L518.8,49.7 L519.6,49.7 L520.3,49.7 L521.0,49.7 L521.8,49.7 L522.5,49.7 L523.2,49.7 L524.0,49.7 L524.7,49.7 L525.5,49.7 L526.2,49.7 L526.9,49.7 L527.7,49.7 L528.4,49.7 L529.2,49.7 L529.9,49.7 L530.6,49.7 L531.4,49.7 L532.1,49.7 L532.9,49.7 L533.6,49.7 L534.3,49.7 L535.1,49.7 L535.8,49.7 L536.6,49.7 L537.3,49.7 L538.1,49.7 L538.8,49.7 L539.5,49.7 L540.3,49.7 L541.0,49.7 L541.8,49.7 L542.5,49.7 L543.3,49.7 L544.0,49.7 L544.8,49.7 L545.5,49.7 L546.3,49.7 L547.0,49.7 L547.8,49.7 L548.5,49.7 L549.3,49.7 L550.0,49.7 L550.8,49.7 L551.5,49.7 L552.3,49.7 L553.0,49.7 L553.8,49.7 L554.6,49.7 L555.3,49.6 L556.1,49.6 L556.8,49.6 L557.6,49.6 L558.3,49.6 L559.1,49.6 L559.9,49.6 L560.6,49.6 L561.4,49.6 L562.1,49.6 L562.9,49.6 L563.7,49.6 L564.4,49.6 L565.2,49.6 L565.9,49.6 L566.7,49.6 L567.5,49.6 L568.2,49.6 L569.0,49.6 L569.7,49.7 L570.5,49.7 L571.3,49.7 L572.0,49.7 L572.8,49.8 L573.5,49.8 L574.3,49.8 L575.0,49.9 L575.8,49.9 L576.5,50.0 L577.2,50.1 L578.0,50.1 L578.7,50.2 L579.5,50.3 L580.2,50.4 L580.9,50.5 L581.7,50.6 L582.4,50.7 L583.1,50.8 L583.8,50.9 L584.5,51.1 L585.3,51.2 L586.0,51.4 L586.7,51.5 L587.4,51.7 L588.1,51.9 L588.8,52.1 L589.5,52.3 L590.1,52.5 L590.8,52.7 L591.5,52.9 L592.2,53.2 L592.8,53.4 L593.5,53.7 L594.2,54.0 L594.8,54.2 L595.5,54.5 L596.1,54.8 L596.7,55.1 L597.3,55.5 L598.0,55.8 L598.6,56.1 L599.2,56.5 L599.8,56.9 L600.3,57.2 L600.9,57.6 L601.5,58.0 L602.1,58.4 L602.6,58.9 L603.1,59.3 L603.7,59.8 L604.2,60.2 L604.7,60.7 L605.2,61.2 L605.7,61.7 L606.2,62.2 L606.7,62.7 L607.2,63.2 L607.6,63.7 L608.1,64.2 L608.6,64.8 L609.0,65.3 L609.5,65.9 L609.9,66.5 L610.3,67.1 L610.7,67.6 L611.2,68.2 L611.6,68.8 L612.0,69.4 L612.4,70.1 L612.8,70.7 L613.2,71.3 L613.5,71.9 L613.9,72.6 L614.3,73.2 L614.7,73.8 L615.0,74.5 L615.4,75.1 L615.8,75.8 L616.1,76.5 L616.5,77.1 L616.8,77.8 L617.2,78.5 L617.5,79.1 L617.8,79.8 L618.2,80.5 L618.5,81.2 L618.8,81.8 L619.2,82.5 L619.5,83.2 L619.8,83.9 L620.1,84.6 L620.5,85.2 L620.8,85.9 L621.1,86.6 L621.4,87.3 L621.7,88.0 L622.1,88.7 L622.4,89.4 L622.7,90.0 L623.0,90.7 L623.3,91.4 L623.6,92.1 L623.9,92.8 L624.2,93.5 L624.5,94.2 L624.8,94.9 L625.1,95.6 L625.4,96.3 L625.7,97.0 L626.0,97.7 L626.3,98.4 L626.6,99.1 L626.9,99.7 L627.2,100.4 L627.5,101.1 L627.8,101.8 L628.1,102.5 L628.4,103.2 L628.7,103.9 L629.0,104.6 L629.2,105.3 L629.5,106.0 L629.8,106.7 L630.1,107.4 L630.4,108.1 L630.7,108.8 L631.0,109.5 L631.3,110.2 L631.6,110.9 L631.9,111.5 L632.2,112.2 L632.5,112.9 L632.8,113.6 L633.1,114.3 L633.4,115.0 L633.6,115.7 L633.9,116.4 L634.2,117.0 L634.5,117.7 L634.8,118.4 L635.1,119.1 L635.4,119.8 L635.7,120.5 L636.0,121.1 L636.4,121.8 L636.7,122.5 L637.0,123.2 L637.3,123.8 L637.6,124.5 L637.9,125.2 L638.2,125.9 L638.5,126.5 L638.8,127.2 L639.2,127.9 L639.5,128.5 L639.8,129.2 L640.1,129.9 L640.4,130.5 L640.8,131.2 L641.1,131.8 L641.4,132.5 L641.8,133.1 L642.1,133.8 L642.4,134.4 L642.8,135.1 L643.1,135.7 L643.5,136.4 L643.8,137.0 L644.2,137.6 L644.5,138.3 L644.9,138.9 L645.2,139.6 L645.6,140.2 L646.0,140.8 L646.3,141.4 L646.7,142.1 L647.1,142.7 L647.4,143.3 L647.8,143.9 L648.2,144.5 L648.6,145.1 L649.0,145.7 L649.4,146.4 L649.8,147.0 L650.2,147.6 L650.6,148.2 L651.0,148.7 L651.4,149.3 L651.8,149.9 L652.2,150.5 L652.6,151.1 L653.0,151.7 L653.5,152.3 L653.9,152.8 L654.3,153.4 L654.8,154.0 L655.2,154.5 L655.7,155.1 L656.1,155.7 L656.6,156.2 L657.1,156.8 L657.5,157.3 L658.0,157.8 L658.5,158.4 L658.9,158.9 L659.4,159.5 L659.9,160.0 L660.4,160.5 L660.9,161.0 L661.4,161.6 L661.9,162.1 L662.4,162.6 L663.0,163.1 L663.5,163.6 L664.0,164.1 L664.5,164.6 L665.1,165.1 L665.6,165.6 L666.2,166.1 L666.7,166.5 L667.3,167.0 L667.9,167.5 L668.4,168.0 L669.0,168.4 L669.6,168.9 L670.2,169.3 L670.8,169.8 L671.4,170.2 L672.0,170.7 L672.6,171.1 L673.2,171.6 L673.8,172.0 L674.4,172.5 L675.0,172.9 L675.6,173.3 L676.2,173.8 L676.9,174.2 L677.5,174.6 L678.1,175.1 L678.8,175.5 L679.4,175.9 L680.0,176.3 L680.7,176.7 L681.3,177.2 L681.9,177.6 L682.6,178.0 L683.2,178.4 L683.9,178.8 L684.5,179.3 L685.2,179.7 L685.8,180.1 L686.4,180.5 L687.1,180.9 L687.7,181.3 L688.4,181.7 L689.0,182.2 L689.7,182.6 L690.3,183.0 L690.9,183.4 L691.6,183.8 L692.2,184.3 L692.9,184.7 L693.5,185.1 L694.1,185.5 L694.8,186.0 L695.4,186.4 L696.0,186.8 L696.6,187.2 L697.3,187.7 L697.9,188.1 L698.5,188.6 L699.1,189.0 L699.7,189.4 L700.3,189.9 L701.0,190.3 L701.6,190.8 L702.2,191.2 L702.7,191.7 L703.3,192.2 L703.9,192.6 L704.5,193.1 L705.1,193.6 L705.6,194.0 L706.2,194.5 L706.8,195.0 L707.3,195.5 L707.9,196.0 L708.4,196.5 L709.0,197.0 L709.5,197.5 L710.0,198.0 L710.6,198.5 L711.1,199.0 L711.6,199.5 L712.1,200.1 L712.6,200.6 L713.2,201.1 L713.7,201.6 L714.2,202.2 L714.7,202.7 L715.2,203.2 L715.7,203.7 L716.2,204.3 L716.7,204.8 L717.2,205.4 L717.7,205.9 L718.2,206.4 L718.6,207.0 L719.1,207.5 L719.6,208.0 L720.1,208.6 L720.6,209.1 L721.1,209.7 L721.6,210.2 L722.1,210.7 L722.6,211.3 L723.1,211.8 L723.6,212.3 L724.1,212.9 L724.6,213.4 L725.1,213.9 L725.7,214.5 L726.2,215.0 L726.7,215.5 L727.2,216.0 L727.7,216.5 L728.3,217.1 L728.8,217.6 L729.3,218.1 L729.9,218.6 L730.4,219.1 L731.0,219.6 L731.5,220.1 L732.1,220.6 L732.7,221.0 L733.3,221.5 L733.8,222.0 L734.4,222.5" fill="none" stroke="#8c5032" stroke-width="1.6" stroke-linejoin="round" stroke-linecap="round"/>
<path d="M449.9,49.3 L450.6,49.3 L451.3,49.3 L452.1,49.3 L452.8,49.4 L453.5,49.4 L454.2,49.4 L454.9,49.4 L455.6,49.5 L456.3,49.5 L457.1,49.5 L457.8,49.5 L458.5,49.5 L459.2,49.5 L459.9,49.6 L460.6,49.6 L461.3,49.6 L462.0,49.6 L462.8,49.6 L463.5,49.6 L464.2,49.7 L464.9,49.7 L465.6,49.7 L466.3,49.7 L467.0,49.7 L467.7,49.7 L468.4,49.7 L469.1,49.7 L469.8,49.7 L470.6,49.7 L471.3,49.8 L472.0,49.8 L472.7,49.8 L473.4,49.8 L474.1,49.8 L474.8,49.8 L475.5,49.8 L476.2,49.8 L476.9,49.8 L477.6,49.8 L478.3,49.8 L479.0,49.8 L479.7,49.8 L480.4,49.8 L481.2,49.8 L481.9,49.8 L482.6,49.8 L483.3,49.8 L484.0,49.8 L484.7,49.8 L485.4,49.8 L486.1,49.8 L486.8,49.8 L487.5,49.8 L488.2,49.8 L488.9,49.8 L489.6,49.8 L490.3,49.8 L491.0,49.8 L491.7,49.8 L492.4,49.8 L493.1,49.8 L493.8,49.8 L494.5,49.8 L495.2,49.8 L495.9,49.7 L496.6,49.7 L497.3,49.7 L498.0,49.7 L498.7,49.7 L499.4,49.7 L500.2,49.7 L500.9,49.7 L501.6,49.7 L502.3,49.7 L503.0,49.7 L503.7,49.7 L504.4,49.7 L505.1,49.7 L505.8,49.7 L506.5,49.6 L507.2,49.6 L507.9,49.6 L508.6,49.6 L509.3,49.6 L510.0,49.6 L510.7,49.6 L511.4,49.6 L512.1,49.6 L512.8,49.6 L513.5,49.6 L514.2,49.6 L514.9,49.6 L515.6,49.5 L516.3,49.5 L517.0,49.5 L517.7,49.5 L518.4,49.5 L519.1,49.5 L519.8,49.5 L520.6,49.5 L521.3,49.5 L522.0,49.5 L522.7,49.5 L523.4,49.5 L524.1,49.5 L524.8,49.5 L525.5,49.4 L526.2,49.4 L526.9,49.4 L527.6,49.4 L528.3,49.4 L529.0,49.4 L529.7,49.4 L530.4,49.4 L531.1,49.4 L531.9,49.4 L532.6,49.4 L533.3,49.4 L534.0,49.4 L534.7,49.4 L535.4,49.4 L536.1,49.4 L536.8,49.4 L537.5,49.4 L538.2,49.4 L538.9,49.4 L539.6,49.4 L540.4,49.4 L541.1,49.4 L541.8,49.4 L542.5,49.4 L543.2,49.4 L543.9,49.4 L544.6,49.4 L545.3,49.4 L546.1,49.4 L546.8,49.4 L547.5,49.4 L548.2,49.4 L548.9,49.4 L549.6,49.4 L550.3,49.4 L551.1,49.4 L551.8,49.4 L552.5,49.4 L553.2,49.5 L553.9,49.5 L554.6,49.5 L555.4,49.5 L556.1,49.5 L556.8,49.5 L557.5,49.5 L558.2,49.5 L558.9,49.5 L559.7,49.6 L560.4,49.6 L561.1,49.6 L561.8,49.6 L562.5,49.6 L563.3,49.6 L564.0,49.6 L564.7,49.7 L565.4,49.7 L566.2,49.7 L566.9,49.7 L567.6,49.8 L568.3,49.8 L569.0,49.8 L569.8,49.9 L570.5,49.9 L571.2,49.9 L571.9,50.0 L572.6,50.0 L573.3,50.1 L574.1,50.1 L574.8,50.2 L575.5,50.2 L576.2,50.3 L576.9,50.4 L577.6,50.4 L578.3,50.5 L579.0,50.6 L579.7,50.7 L580.4,50.8 L581.1,50.9 L581.8,51.0 L582.5,51.1 L583.2,51.3 L583.8,51.4 L584.5,51.5 L585.2,51.7 L585.9,51.8 L586.5,52.0 L587.2,52.1 L587.9,52.3 L588.5,52.5 L589.2,52.7 L589.8,52.9 L590.5,53.1 L591.1,53.3 L591.7,53.5 L592.4,53.8 L593.0,54.0 L593.6,54.3 L594.2,54.5 L594.9,54.8 L595.5,55.1 L596.1,55.3 L596.7,55.6 L597.3,55.9 L597.9,56.2 L598.4,56.6 L599.0,56.9 L599.6,57.2 L600.2,57.6 L600.7,57.9 L601.3,58.3 L601.9,58.6 L602.4,59.0 L603.0,59.4 L603.5,59.8 L604.0,60.2 L604.6,60.6 L605.1,61.0 L605.6,61.4 L606.1,61.8 L606.6,62.3 L607.1,62.7 L607.6,63.2 L608.1,63.6 L608.6,64.1 L609.1,64.6 L609.5,65.0 L610.0,65.5 L610.5,66.0 L610.9,66.5 L611.4,67.0 L611.8,67.5 L612.3,68.1 L612.7,68.6 L613.1,69.1 L613.5,69.7 L613.9,70.2 L614.3,70.8 L614.7,71.3 L615.1,71.9 L615.5,72.5 L615.9,73.0 L616.3,73.6 L616.6,74.2 L617.0,74.8 L617.4,75.4 L617.7,76.0 L618.1,76.6 L618.4,77.2 L618.8,77.8 L619.1,78.5 L619.4,79.1 L619.8,79.7 L620.1,80.3 L620.4,81.0 L620.7,81.6 L621.0,82.3 L621.4,82.9 L621.7,83.6 L622.0,84.2 L622.3,84.9 L622.6,85.5 L622.9,86.2 L623.2,86.8 L623.5,87.5 L623.8,88.2 L624.1,88.8 L624.4,89.5 L624.7,90.2 L625.0,90.8 L625.3,91.5 L625.5,92.2 L625.8,92.8 L626.1,93.5 L626.4,94.2 L626.7,94.9 L627.0,95.5 L627.3,96.2 L627.6,96.9 L627.9,97.5 L628.1,98.2 L628.4,98.9 L628.7,99.6 L629.0,100.2 L629.3,100.9 L629.6,101.6 L629.9,102.2 L630.2,102.9 L630.5,103.6 L630.8,104.2 L631.0,104.9 L631.3,105.6 L631.6,106.2 L631.9,106.9 L632.2,107.6 L632.5,108.2 L632.8,108.9 L633.1,109.6 L633.4,110.2 L633.7,110.9 L634.0,111.6 L634.3,112.2 L634.6,112.9 L634.9,113.5 L635.2,114.2 L635.5,114.9 L635.8,115.5 L636.1,116.2 L636.4,116.8 L636.7,117.5 L637.0,118.1 L637.3,118.8 L637.7,119.4 L638.0,120.1 L638.3,120.7 L638.6,121.4 L638.9,122.0 L639.2,122.7 L639.5,123.3 L639.9,124.0 L640.2,124.6 L640.5,125.2 L640.8,125.9 L641.2,126.5 L641.5,127.1 L641.8,127.8 L642.2,128.4 L642.5,129.0 L642.8,129.6 L643.2,130.3 L643.5,130.9 L643.8,131.5 L644.2,132.1 L644.5,132.8 L644.9,133.4 L645.2,134.0 L645.6,134.6 L645.9,135.2 L646.3,135.8 L646.6,136.4 L647.0,137.0 L647.4,137.6 L647.7,138.2 L648.1,138.8 L648.5,139.4 L648.8,140.0 L649.2,140.6 L649.6,141.2 L650.0,141.7 L650.3,142.3 L650.7,142.9 L651.1,143.5 L651.5,144.0 L651.9,144.6 L652.3,145.2 L652.7,145.7 L653.1,146.3 L653.5,146.9 L653.9,147.4 L654.3,148.0 L654.7,148.5 L655.1,149.1 L655.6,149.6 L656.0,150.2 L656.4,150.7 L656.8,151.2 L657.3,151.8 L657.7,152.3 L658.1,152.8 L658.6,153.3 L659.0,153.9 L659.5,154.4 L659.9,154.9 L660.4,155.4 L660.8,155.9 L661.3,156.4 L661.7,156.9 L662.2,157.4 L662.7,157.9 L663.2,158.4 L663.6,158.9 L664.1,159.4 L664.6,159.8 L665.1,160.3 L665.6,160.8 L666.1,161.2 L666.6,161.7 L667.1,162.2 L667.6,162.6 L668.1,163.1 L668.6,163.5 L669.2,164.0 L669.7,164.4 L670.2,164.8 L670.7,165.3 L671.3,165.7 L671.8,166.1 L672.4,166.5 L672.9,166.9 L673.5,167.4 L674.0,167.8 L674.6,168.2 L675.2,168.6 L675.7,168.9 L676.3,169.3 L676.9,169.7 L677.5,170.1 L678.1,170.5 L678.7,170.8 L679.3,171.2 L679.9,171.6 L680.5,171.9 L681.1,172.3 L681.7,172.6 L682.3,173.0 L683.0,173.3 L683.6,173.6 L684.2,174.0 L684.9,174.3 L685.5,174.6 L686.2,174.9 L686.8,175.2 L687.5,175.5 L688.1,175.8 L688.8,176.1 L689.4,176.4 L690.1,176.7 L690.8,177.0 L691.4,177.3 L692.1,177.6 L692.8,177.9 L693.5,178.2 L694.2,178.4 L694.8,178.7 L695.5,179.0 L696.2,179.2 L696.9,179.5 L697.6,179.7 L698.3,180.0 L699.0,180.2 L699.7,180.5 L700.4,180.7 L701.1,181.0 L701.8,181.2 L702.5,181.5 L703.2,181.7 L703.9,181.9 L704.6,182.1 L705.3,182.4 L706.0,182.6 L706.7,182.8 L707.4,183.0 L708.1,183.3 L708.8,183.5 L709.5,183.7 L710.2,183.9 L710.9,184.1 L711.6,184.3 L712.3,184.5 L713.0,184.7 L713.7,184.9 L714.4,185.1 L715.1,185.3 L715.7,185.5 L716.4,185.7 L717.1,185.9 L717.8,186.1 L718.5,186.3 L719.2,186.5 L719.9,186.7 L720.6,186.9 L721.2,187.1 L721.9,187.3 L722.6,187.4 L723.3,187.6 L723.9,187.8 L724.6,188.0 L725.3,188.2 L725.9,188.4 L726.6,188.6 L727.2,188.7 L727.9,188.9 L728.5,189.1 L729.2,189.3 L729.8,189.5 L730.4,189.6 L731.1,189.8 L731.7,190.0 L732.3,190.2 L732.9,190.4 L733.6,190.6 L734.2,190.7 L734.8,190.9" fill="none" stroke="#232382" stroke-width="1.6" stroke-linejoin="round" stroke-linecap="round"/>
<path d="M467.80,134.00 Q518.15,144.30 568.50,167.80" fill="none" stroke="#bdb35a" stroke-width="1.15"/>
<path d="M467.80,131.50 Q518.15,143.95 568.50,164.60" fill="none" stroke="#f58223" stroke-width="1.15"/>
<path d="M467.80,139.20 Q518.15,149.40 568.50,174.00" fill="none" stroke="#8c5032" stroke-width="1.15"/>
<path d="M467.80,134.80 Q518.15,146.90 568.50,171.40" fill="none" stroke="#232382" stroke-width="1.15"/>
<rect x="467.80" y="101.40" width="100.70" height="92.60" fill="none" stroke="#575757" stroke-width="1.35"/>
<line x1="467.80" y1="194.00" x2="470.00" y2="194.00" stroke="#555" stroke-width="1.00"/>
<text x="465.90" y="196.40" font-size="7.40" text-anchor="end" font-weight="normal" fill="#111" textLength="7.0" lengthAdjust="spacingAndGlyphs">96</text>
<line x1="467.80" y1="182.43" x2="469.30" y2="182.43" stroke="#555" stroke-width="0.90"/>
<line x1="467.80" y1="170.85" x2="470.00" y2="170.85" stroke="#555" stroke-width="1.00"/>
<text x="465.90" y="173.25" font-size="7.40" text-anchor="end" font-weight="normal" fill="#111" textLength="7.0" lengthAdjust="spacingAndGlyphs">97</text>
<line x1="467.80" y1="159.28" x2="469.30" y2="159.28" stroke="#555" stroke-width="0.90"/>
<line x1="467.80" y1="147.70" x2="470.00" y2="147.70" stroke="#555" stroke-width="1.00"/>
<text x="465.90" y="150.10" font-size="7.40" text-anchor="end" font-weight="normal" fill="#111" textLength="7.0" lengthAdjust="spacingAndGlyphs">98</text>
<line x1="467.80" y1="136.12" x2="469.30" y2="136.12" stroke="#555" stroke-width="0.90"/>
<line x1="467.80" y1="124.55" x2="470.00" y2="124.55" stroke="#555" stroke-width="1.00"/>
<text x="465.90" y="126.95" font-size="7.40" text-anchor="end" font-weight="normal" fill="#111" textLength="7.0" lengthAdjust="spacingAndGlyphs">99</text>
<line x1="467.80" y1="112.98" x2="469.30" y2="112.98" stroke="#555" stroke-width="0.90"/>
<line x1="467.80" y1="101.40" x2="470.00" y2="101.40" stroke="#555" stroke-width="1.00"/>
<text x="465.90" y="103.80" font-size="7.40" text-anchor="end" font-weight="normal" fill="#111" textLength="10.5" lengthAdjust="spacingAndGlyphs">100</text>
<line x1="467.80" y1="194.00" x2="467.80" y2="191.80" stroke="#555" stroke-width="1.00"/>
<text x="467.80" y="201.50" font-size="7.40" text-anchor="middle" font-weight="normal" fill="#111" textLength="10.4" lengthAdjust="spacingAndGlyphs">355</text>
<line x1="492.98" y1="194.00" x2="492.98" y2="191.80" stroke="#555" stroke-width="1.00"/>
<text x="492.98" y="201.50" font-size="7.40" text-anchor="middle" font-weight="normal" fill="#111" textLength="10.4" lengthAdjust="spacingAndGlyphs">360</text>
<line x1="518.15" y1="194.00" x2="518.15" y2="191.80" stroke="#555" stroke-width="1.00"/>
<text x="518.15" y="201.50" font-size="7.40" text-anchor="middle" font-weight="normal" fill="#111" textLength="10.4" lengthAdjust="spacingAndGlyphs">365</text>
<line x1="543.33" y1="194.00" x2="543.33" y2="191.80" stroke="#555" stroke-width="1.00"/>
<text x="543.33" y="201.50" font-size="7.40" text-anchor="middle" font-weight="normal" fill="#111" textLength="10.4" lengthAdjust="spacingAndGlyphs">370</text>
<line x1="568.50" y1="194.00" x2="568.50" y2="191.80" stroke="#555" stroke-width="1.00"/>
<text x="568.50" y="201.50" font-size="7.40" text-anchor="middle" font-weight="normal" fill="#111" textLength="10.4" lengthAdjust="spacingAndGlyphs">375</text>
<line x1="598.90" y1="71.20" x2="576.50" y2="101.30" stroke="#333" stroke-width="1.10"/>
<polygon points="576.50,101.30 578.39,94.23 580.23,96.28 582.73,97.46" fill="#222"/>
</svg></body></html>
